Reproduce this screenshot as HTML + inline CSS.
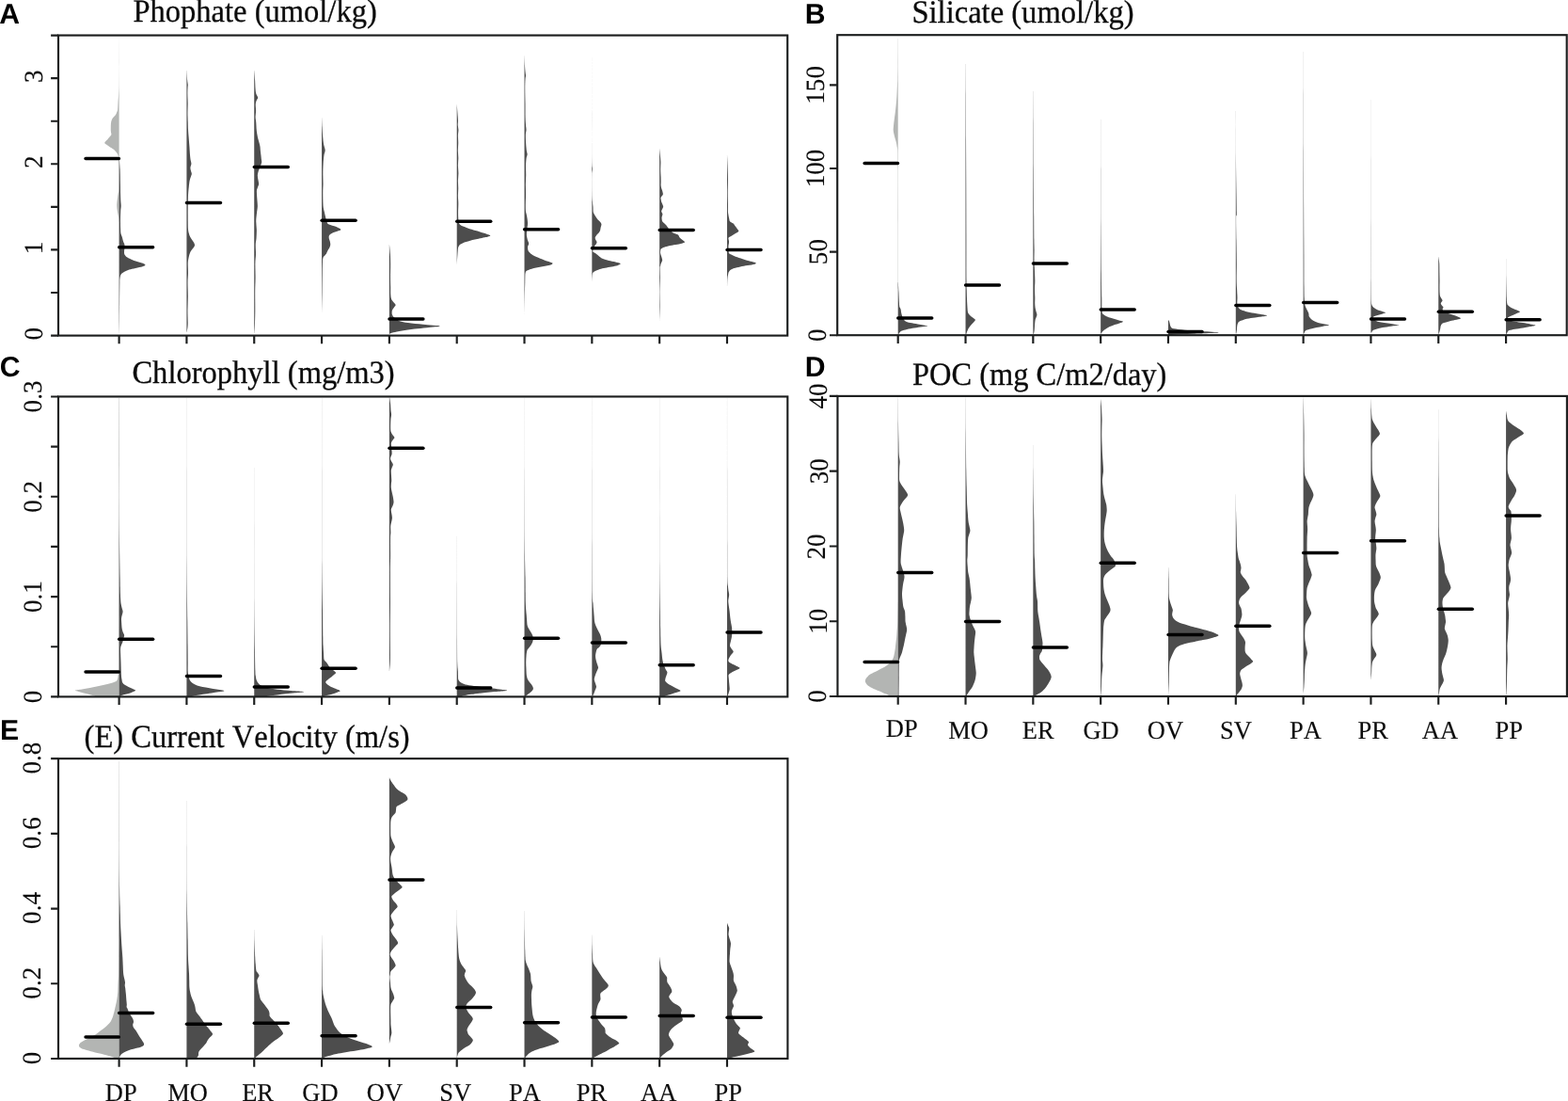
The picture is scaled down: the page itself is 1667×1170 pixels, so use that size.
<!DOCTYPE html>
<html lang="en">
<head>
<meta charset="utf-8">
<title>Bean plots of environmental variables</title>
<style>
html,body{margin:0;padding:0;background:#fff;}
body{width:1667px;height:1170px;overflow:hidden;}
svg{display:block;}
text{text-rendering:geometricPrecision;}
.t{font-family:"Liberation Serif","DejaVu Serif",serif;fill:#0c0c0c;stroke:#0c0c0c;stroke-width:0.15px;font-kerning:none;}
.l{font-family:"Liberation Sans","DejaVu Sans",sans-serif;font-weight:bold;fill:#000;}
.ax{stroke:#1c1e1e;stroke-width:2.15;fill:none;}
.tt{stroke-width:0.3px;}
.dk{fill:#4d4d4d;}
.lt{fill:#b3b5b3;}
.hl{stroke:#dcdcdc;stroke-width:0.8;fill:none;}
.m{stroke:#000;stroke-width:3.5;stroke-linecap:round;fill:none;}
</style>
</head>
<body>
<svg width="1667" height="1170" viewBox="0 0 1667 1170" role="img" aria-label="Bean plots of phosphate, silicate, chlorophyll, POC and current velocity for ten regions">
<rect x="0" y="0" width="1667" height="1170" fill="#fff"/>
<g id="panel-A">
<g><path class="lt" d="M126.6 41L126.56 41C126.55 45.83 126.56 61.83 126.54 70C126.51 78.17 126.49 85 126.42 90C126.35 95 126.26 96.7 126.1 100C125.94 103.3 125.62 107.07 125.45 109.8C125.28 112.53 125.27 114.87 125.08 116.4C124.89 117.93 124.63 118.12 124.3 119C123.97 119.88 123.55 120.93 123.1 121.7C122.65 122.47 122.15 122.95 121.6 123.6C121.05 124.25 120.27 124.95 119.8 125.6C119.33 126.25 119.07 126.83 118.8 127.5C118.53 128.17 118.35 128.85 118.2 129.6C118.05 130.35 117.97 131.12 117.9 132C117.83 132.88 117.82 133.77 117.8 134.9C117.78 136.03 117.75 137.78 117.8 138.8C117.85 139.82 118 140.33 118.1 141C118.2 141.67 118.45 142.3 118.4 142.8C118.35 143.3 118.12 143.57 117.8 144C117.48 144.43 116.9 144.93 116.5 145.4C116.1 145.87 115.73 146.35 115.4 146.8C115.07 147.25 114.98 147.57 114.5 148.1C114.02 148.63 112.98 149.52 112.5 150C112.02 150.48 111.82 150.7 111.6 151C111.38 151.3 111.2 151.53 111.2 151.8C111.2 152.07 111.38 152.35 111.6 152.6C111.82 152.85 112.03 152.97 112.5 153.3C112.97 153.63 113.73 154.15 114.4 154.6C115.07 155.05 115.8 155.55 116.5 156C117.2 156.45 117.93 156.87 118.6 157.3C119.27 157.73 119.88 158.12 120.5 158.6C121.12 159.08 121.75 159.65 122.3 160.2C122.85 160.75 123.37 161.35 123.8 161.9C124.23 162.45 124.61 162.95 124.9 163.5C125.19 164.05 125.3 164.53 125.53 165.2C125.77 165.87 126.15 165.87 126.3 167.5C126.45 169.13 126.4 169.58 126.42 175C126.44 180.42 126.55 194.83 126.42 200C126.29 205.17 125.87 204.17 125.62 206C125.37 207.83 125.1 209.5 124.9 211C124.7 212.5 124.52 213.7 124.4 215C124.28 216.3 124.17 217.47 124.2 218.8C124.23 220.13 124.41 221.63 124.6 223C124.78 224.37 125.06 225.67 125.31 227C125.56 228.33 125.9 229.5 126.1 231C126.3 232.5 126.42 235.17 126.49 236L126.6 236Z"/><path class="dk" d="M126.6 168L126.78 168C126.91 170 127.39 175.5 127.58 180C127.77 184.5 127.81 190.83 127.89 195C127.97 199.17 127.97 202 128.04 205C128.11 208 128.19 210.7 128.3 213C128.41 215.3 128.72 216.8 128.7 218.8C128.68 220.8 128.32 222.3 128.2 225C128.08 227.7 127.97 232 127.96 235C127.95 238 128.05 240.87 128.12 243C128.19 245.13 128.24 246.63 128.4 247.8C128.56 248.97 128.87 249.33 129.1 250C129.33 250.67 129.6 251.17 129.8 251.8C130 252.43 130.13 253.15 130.3 253.8C130.47 254.45 130.6 255.05 130.8 255.7C131 256.35 131.23 257.03 131.5 257.7C131.77 258.37 132.23 258.85 132.4 259.7C132.57 260.55 132.55 261.7 132.5 262.8C132.45 263.9 132.18 265.43 132.1 266.3C132.02 267.17 132 267.45 132 268C132 268.55 131.98 269.1 132.1 269.6C132.22 270.1 132.43 270.57 132.7 271C132.97 271.43 133.25 271.78 133.7 272.2C134.15 272.62 134.73 273.07 135.4 273.5C136.07 273.93 136.8 274.35 137.7 274.8C138.6 275.25 139.7 275.75 140.8 276.2C141.9 276.65 143.18 277.12 144.3 277.5C145.42 277.88 146.4 278.17 147.5 278.5C148.6 278.83 150.02 279.22 150.9 279.5C151.78 279.78 152.32 279.98 152.8 280.2C153.28 280.42 153.55 280.62 153.8 280.8C154.05 280.98 154.2 281.15 154.3 281.3C154.4 281.45 154.45 281.55 154.4 281.7C154.35 281.85 154.25 282.02 154 282.2C153.75 282.38 153.4 282.6 152.9 282.8C152.4 283 151.78 283.18 151 283.4C150.22 283.62 149.35 283.83 148.2 284.1C147.05 284.37 145.42 284.72 144.1 285C142.78 285.28 141.42 285.53 140.3 285.8C139.18 286.07 138.28 286.33 137.4 286.6C136.52 286.87 135.77 287.1 135 287.4C134.23 287.7 133.45 288.07 132.8 288.4C132.15 288.73 131.63 289.03 131.1 289.4C130.57 289.77 130.05 290.17 129.6 290.6C129.15 291.03 128.69 291.52 128.4 292C128.12 292.48 128.03 292.95 127.89 293.5C127.75 294.05 127.67 294.22 127.58 295.3C127.48 296.38 127.4 295.88 127.32 300C127.24 304.12 127.17 313.33 127.1 320C127.03 326.67 126.96 334.33 126.9 340C126.84 345.67 126.74 351.67 126.71 354L126.6 354Z"/><path class="m" d="M91.05 168.5H126.35"/><path class="m" d="M126.7 262.8H162.6"/></g>
<g><path class="dk" d="M198.42 75L198.53 75C198.63 76.67 198.93 82.5 199.14 85C199.35 87.5 199.71 88.67 199.78 90C199.85 91.33 199.63 91.33 199.57 93C199.51 94.67 199.38 97.17 199.4 100C199.42 102.83 199.7 106.67 199.71 110C199.72 113.33 199.47 116.67 199.48 120C199.5 123.33 199.69 127 199.78 130C199.87 133 199.88 135.33 200.02 138C200.16 140.67 200.39 143 200.62 146C200.85 149 201.19 152.83 201.42 156C201.65 159.17 201.82 162.67 202.02 165C202.22 167.33 202.39 168.5 202.62 170C202.85 171.5 203.45 172.67 203.42 174C203.39 175.33 202.52 176.83 202.42 178C202.32 179.17 202.59 179.87 202.82 181C203.05 182.13 203.82 183.63 203.82 184.8C203.82 185.97 203.19 186.8 202.82 188C202.45 189.2 201.95 190.33 201.62 192C201.29 193.67 201.05 196 200.82 198C200.59 200 200.37 202 200.22 204C200.07 206 200.01 207.33 199.94 210C199.87 212.67 199.81 215.83 199.78 220C199.75 224.17 199.74 231 199.78 235C199.82 239 199.85 241.83 200.02 244C200.19 246.17 200.49 246.75 200.82 248C201.15 249.25 201.45 250.33 202.02 251.5C202.59 252.67 203.52 253.92 204.22 255C204.92 256.08 205.75 257.13 206.22 258C206.69 258.87 207.02 259.45 207.02 260.2C207.02 260.95 206.69 261.7 206.22 262.5C205.75 263.3 204.84 264.17 204.22 265C203.6 265.83 203.02 266.5 202.52 267.5C202.02 268.5 201.59 269.75 201.22 271C200.85 272.25 200.56 273.5 200.32 275C200.08 276.5 199.83 277.5 199.78 280C199.73 282.5 200.05 286.67 200.02 290C199.98 293.33 199.6 295.83 199.57 300C199.54 304.17 199.87 310 199.86 315C199.85 320 199.51 325 199.48 330C199.46 335 199.86 341.17 199.71 345C199.56 348.83 198.78 351.67 198.6 353L198.42 353Z"/><path class="m" d="M198.52 215.4H234.42"/></g>
<g><path class="dk" d="M270.24 75L270.35 75C270.48 76.67 270.88 81.67 271.09 85C271.3 88.33 271.38 92.5 271.6 95C271.83 97.5 272 98.53 272.44 100C272.88 101.47 274.21 102.63 274.24 103.8C274.27 104.97 273.05 105.8 272.64 107C272.23 108.2 271.84 109.17 271.76 111C271.68 112.83 272.17 115.83 272.14 118C272.11 120.17 271.58 122 271.6 124C271.62 126 272.05 127.67 272.24 130C272.43 132.33 272.54 135.83 272.74 138C272.94 140.17 273.19 141.5 273.44 143C273.69 144.5 273.87 145.5 274.24 147C274.61 148.5 275.26 150.5 275.64 152C276.02 153.5 276.34 154.67 276.54 156C276.74 157.33 276.69 158.5 276.84 160C276.99 161.5 277.27 163.5 277.44 165C277.61 166.5 277.71 167.8 277.84 169C277.97 170.2 278.31 171.2 278.24 172.2C278.17 173.2 277.87 173.8 277.44 175C277.01 176.2 276.14 178.07 275.64 179.4C275.14 180.73 274.74 181.8 274.44 183C274.14 184.2 273.84 185.27 273.84 186.6C273.84 187.93 274.22 189.5 274.44 191C274.66 192.5 275.21 194.27 275.14 195.6C275.07 196.93 274.41 197.8 274.04 199C273.67 200.2 273.07 200.97 272.94 202.8C272.81 204.63 273.09 207.3 273.24 210C273.39 212.7 273.87 216.33 273.84 219C273.81 221.67 273.31 223.33 273.04 226C272.77 228.67 272.27 232 272.24 235C272.21 238 272.79 241 272.84 244C272.89 247 272.72 250.33 272.54 253C272.36 255.67 271.84 257.17 271.76 260C271.68 262.83 272.1 266.67 272.04 270C271.98 273.33 271.46 275.83 271.39 280C271.32 284.17 271.63 290 271.6 295C271.57 300 271.27 304.17 271.22 310C271.17 315.83 271.35 324.17 271.31 330C271.26 335.83 271.11 341 270.96 345C270.81 349 270.51 352.5 270.42 354L270.24 354Z"/><path class="m" d="M270.34 177.6H306.24"/></g>
<g><path class="dk" d="M342.06 125L342.11 125C342.19 126.67 342.38 131.67 342.56 135C342.74 138.33 342.96 142 343.21 145C343.46 148 343.65 150.57 344.06 153C344.47 155.43 345.59 157.6 345.66 159.6C345.73 161.6 344.79 162.6 344.46 165C344.13 167.4 343.84 170.67 343.66 174C343.47 177.33 343.36 181.5 343.35 185C343.34 188.5 343.59 191.67 343.58 195C343.57 198.33 343.29 201.33 343.28 205C343.27 208.67 343.37 214.17 343.5 217C343.63 219.83 343.83 220.63 344.06 222C344.29 223.37 344.63 224.2 344.86 225.2C345.09 226.2 345.28 227.17 345.46 228C345.64 228.83 345.76 229.37 345.96 230.2C346.16 231.03 346.38 232.03 346.66 233C346.94 233.97 347.34 235.2 347.66 236C347.98 236.8 347.96 237.3 348.56 237.8C349.16 238.3 350.14 238.58 351.26 239C352.38 239.42 354.06 239.88 355.26 240.3C356.46 240.72 357.48 241.08 358.46 241.5C359.44 241.92 360.56 242.45 361.16 242.8C361.76 243.15 361.88 243.37 362.06 243.6C362.24 243.83 362.46 243.97 362.26 244.2C362.06 244.43 361.48 244.75 360.86 245C360.24 245.25 359.46 245.4 358.56 245.7C357.66 246 356.43 246.43 355.46 246.8C354.49 247.17 353.49 247.53 352.76 247.9C352.03 248.27 351.54 248.58 351.06 249C350.58 249.42 350.09 249.9 349.86 250.4C349.63 250.9 349.66 251.45 349.66 252C349.66 252.55 349.71 253.07 349.86 253.7C350.01 254.33 350.36 255.1 350.56 255.8C350.76 256.5 350.94 257.27 351.06 257.9C351.18 258.53 351.26 259.03 351.26 259.6C351.26 260.17 351.24 260.67 351.06 261.3C350.88 261.93 350.53 262.7 350.16 263.4C349.79 264.1 349.24 264.8 348.86 265.5C348.48 266.2 348.19 266.9 347.86 267.6C347.53 268.3 347.28 269.07 346.86 269.7C346.44 270.33 345.86 270.83 345.36 271.4C344.86 271.97 344.21 272.5 343.86 273.1C343.51 273.7 343.42 274.3 343.28 275C343.14 275.7 343.12 275 343.04 277.3C342.96 279.8 342.86 284.55 342.78 290C342.7 295.45 342.65 304.17 342.56 310C342.47 315.83 342.31 321.33 342.24 325C342.17 328.67 342.13 330.83 342.11 332L342.06 332Z"/><path class="m" d="M342.16 234.3H378.06"/></g>
<g><path class="dk" d="M413.88 260L413.99 260C414.14 261.67 414.66 266.67 414.86 270C415.06 273.33 415.14 275.83 415.17 280C415.2 284.17 415.02 290.83 415.03 295C415.04 299.17 415.19 302 415.24 305C415.29 308 415.18 310.87 415.32 313C415.46 315.13 415.59 316.47 416.08 317.8C416.57 319.13 417.53 319.97 418.28 321C419.03 322.03 420.45 323.08 420.58 324C420.71 324.92 419.66 325.58 419.08 326.5C418.5 327.42 417.48 328.58 417.08 329.5C416.68 330.42 416.71 331.25 416.68 332C416.65 332.75 416.55 333.17 416.88 334C417.21 334.83 417.35 335.8 418.68 337C420.01 338.2 422.35 340.2 424.88 341.2C427.41 342.2 429.71 342.4 433.88 343C438.05 343.6 444.25 344.2 449.88 344.8C455.51 345.4 467.01 346.03 467.68 346.6C468.35 347.17 458.35 347.7 453.88 348.2C449.41 348.7 444.8 349.13 440.88 349.6C436.96 350.07 433.55 350.52 430.38 351C427.21 351.48 424.38 351.98 421.88 352.5C419.38 353.02 416.7 353.6 415.4 354.1C414.1 354.6 414.28 355.27 414.06 355.5L413.88 355.5Z"/><path class="m" d="M413.98 339H449.88"/></g>
<g><path class="dk" d="M485.7 111L485.75 111C485.86 112.5 486.21 117.17 486.42 120C486.63 122.83 486.93 125.83 486.99 128C487.05 130.17 486.7 131.33 486.76 133C486.83 134.67 487.37 136.17 487.4 138C487.43 139.83 486.95 141.67 486.92 144C486.89 146.33 487.23 149.33 487.22 152C487.21 154.67 486.84 157.33 486.85 160C486.86 162.67 487.29 165.33 487.3 168C487.31 170.67 486.9 173.33 486.92 176C486.94 178.67 487.4 181.33 487.4 184C487.4 186.67 486.95 189.33 486.92 192C486.89 194.67 487.22 197.33 487.22 200C487.22 202.67 486.91 205.33 486.92 208C486.93 210.67 487.28 213 487.3 216C487.32 219 487.07 223.33 487.06 226C487.05 228.67 487.11 230.33 487.22 232C487.33 233.67 487.44 234.9 487.7 236C487.96 237.1 488.27 237.95 488.8 238.6C489.33 239.25 490.07 239.48 490.9 239.9C491.73 240.32 492.73 240.68 493.8 241.1C494.87 241.52 496.03 241.97 497.3 242.4C498.57 242.83 500.03 243.27 501.4 243.7C502.77 244.13 504.1 244.58 505.5 245C506.9 245.42 508.43 245.78 509.8 246.2C511.17 246.62 512.43 247.08 513.7 247.5C514.97 247.92 516.37 248.35 517.4 248.7C518.43 249.05 519.27 249.32 519.9 249.6C520.53 249.88 521.27 250.13 521.2 250.4C521.13 250.67 520.28 250.92 519.5 251.2C518.72 251.48 517.97 251.75 516.5 252.1C515.03 252.45 512.65 252.88 510.7 253.3C508.75 253.72 506.6 254.18 504.8 254.6C503 255.02 501.45 255.38 499.9 255.8C498.35 256.22 496.78 256.68 495.5 257.1C494.22 257.52 493.18 257.88 492.2 258.3C491.22 258.72 490.3 259.12 489.6 259.6C488.9 260.08 488.41 260.63 488 261.2C487.59 261.77 487.35 262.2 487.14 263C486.93 263.8 486.88 264.75 486.76 266C486.64 267.25 486.55 268.83 486.42 270.5C486.29 272.17 486.11 274.25 486 276C485.89 277.75 485.79 280.17 485.75 281L485.7 281Z"/><path class="m" d="M485.8 235.2H521.7"/></g>
<g><path class="dk" d="M557.52 59L557.57 59C557.65 60.83 557.85 67 558.02 70C558.19 73 558.42 75.27 558.59 77C558.75 78.73 559.05 79.23 559.04 80.4C559.03 81.57 558.63 81.57 558.5 84C558.37 86.43 558.24 90.67 558.24 95C558.24 99.33 558.44 105 558.5 110C558.56 115 558.5 121.17 558.59 125C558.68 128.83 558.88 130.83 559.04 133C559.2 135.17 559.55 136.33 559.52 138C559.49 139.67 558.95 140.67 558.88 143C558.81 145.33 558.96 149.17 559.12 152C559.28 154.83 559.57 158 559.82 160C560.07 162 560.65 162.67 560.62 164C560.59 165.33 559.88 166 559.62 168C559.36 170 559.11 173 559.04 176C558.97 179 559.25 182.67 559.22 186C559.19 189.33 558.9 192.67 558.88 196C558.86 199.33 559.13 202.67 559.12 206C559.11 209.33 558.85 213.08 558.81 216C558.77 218.92 558.76 221.67 558.88 223.5C559 225.33 559.3 225.88 559.52 227C559.74 228.12 560.02 229.12 560.22 230.2C560.42 231.28 560.59 232.38 560.72 233.5C560.85 234.62 561 235.82 561.02 236.9C561.04 237.98 560.94 238.85 560.82 240C560.7 241.15 560.47 242.63 560.32 243.8C560.17 244.97 559.99 245.9 559.92 247C559.85 248.1 559.84 249.4 559.92 250.4C560 251.4 560.24 252.17 560.42 253C560.6 253.83 560.8 254.73 561.02 255.4C561.24 256.07 561.52 256.43 561.72 257C561.92 257.57 562.22 258.22 562.22 258.8C562.22 259.38 561.92 259.95 561.72 260.5C561.52 261.05 561.12 261.48 561.02 262.1C560.92 262.72 561.04 263.5 561.12 264.2C561.2 264.9 561.25 265.67 561.52 266.3C561.79 266.93 562.24 267.43 562.72 268C563.2 268.57 563.7 269.13 564.42 269.7C565.14 270.27 566.04 270.83 567.02 271.4C568 271.97 569.1 272.53 570.32 273.1C571.54 273.67 572.92 274.25 574.32 274.8C575.72 275.35 577.35 275.92 578.72 276.4C580.09 276.88 581.27 277.28 582.52 277.7C583.77 278.12 585.42 278.58 586.22 278.9C587.02 279.22 587.09 279.4 587.32 279.6C587.55 279.8 587.69 279.9 587.62 280.1C587.55 280.3 587.29 280.57 586.92 280.8C586.55 281.03 586.45 281.22 585.42 281.5C584.39 281.78 582.4 282.17 580.72 282.5C579.04 282.83 577.1 283.15 575.32 283.5C573.54 283.85 571.7 284.23 570.02 284.6C568.34 284.97 566.6 285.32 565.22 285.7C563.84 286.08 562.7 286.48 561.72 286.9C560.74 287.32 559.83 287.68 559.32 288.2C558.81 288.72 558.83 289.3 558.67 290C558.51 290.7 558.44 290.73 558.37 292.4C558.3 294.07 558.33 296.23 558.24 300C558.15 303.77 557.93 309.33 557.82 315C557.71 320.67 557.61 330.83 557.57 334L557.52 334Z"/><path class="m" d="M557.62 243.8H593.52"/></g>
<g><path class="dk" d="M629.34 61L629.37 61C629.38 70.83 629.39 101.83 629.4 120C629.42 138.17 629.34 160.1 629.45 170C629.56 179.4 630.05 176.73 630.06 179.4C630.07 182.07 629.58 181.73 629.49 186C629.4 190.27 629.46 200.47 629.52 205C629.58 209.53 629.68 210.73 629.84 213.2C630 215.67 630.35 217.82 630.49 219.8C630.63 221.78 630.54 223.9 630.7 225.1C630.86 226.3 631.13 226.35 631.44 227C631.75 227.65 632.14 228.33 632.54 229C632.94 229.67 633.39 230.33 633.84 231C634.29 231.67 634.79 232.45 635.24 233C635.69 233.55 636.11 233.87 636.54 234.3C636.97 234.73 637.44 235.15 637.84 235.6C638.24 236.05 638.67 236.55 638.94 237C639.21 237.45 639.41 237.8 639.44 238.3C639.47 238.8 639.29 239.35 639.14 240C638.99 240.65 638.69 241.53 638.54 242.2C638.39 242.87 638.36 243.45 638.24 244C638.12 244.55 638.09 244.97 637.84 245.5C637.59 246.03 637.17 246.65 636.74 247.2C636.31 247.75 635.72 248.25 635.24 248.8C634.76 249.35 634.24 249.95 633.84 250.5C633.44 251.05 633.01 251.6 632.84 252.1C632.67 252.6 632.77 253.05 632.84 253.5C632.91 253.95 633.04 254.37 633.24 254.8C633.44 255.23 633.82 255.67 634.04 256.1C634.26 256.53 634.54 256.97 634.54 257.4C634.54 257.83 634.26 258.27 634.04 258.7C633.82 259.13 633.49 259.62 633.24 260C632.99 260.38 632.76 260.67 632.54 261C632.32 261.33 632.21 261.5 631.94 262C631.67 262.5 631.2 263.37 630.94 264C630.68 264.63 630.51 265.25 630.4 265.8C630.3 266.35 630.16 266.88 630.32 267.3C630.48 267.72 630.85 267.97 631.34 268.3C631.83 268.63 632.66 268.92 633.24 269.3C633.82 269.68 634.29 270.17 634.84 270.6C635.39 271.03 635.99 271.45 636.54 271.9C637.09 272.35 637.59 272.85 638.14 273.3C638.69 273.75 639.14 274.22 639.84 274.6C640.54 274.98 641.36 275.28 642.34 275.6C643.32 275.92 644.64 276.22 645.74 276.5C646.84 276.78 647.84 277.03 648.94 277.3C650.04 277.57 651.31 277.87 652.34 278.1C653.37 278.33 654.26 278.52 655.14 278.7C656.02 278.88 656.99 279.03 657.64 279.2C658.29 279.37 658.71 279.55 659.04 279.7C659.37 279.85 659.59 279.93 659.64 280.1C659.69 280.27 659.56 280.52 659.34 280.7C659.12 280.88 658.74 281 658.34 281.2C657.94 281.4 657.49 281.68 656.94 281.9C656.39 282.12 655.87 282.28 655.04 282.5C654.21 282.72 653.04 282.98 651.94 283.2C650.84 283.42 649.61 283.58 648.44 283.8C647.27 284.02 646.04 284.28 644.94 284.5C643.84 284.72 642.84 284.88 641.84 285.1C640.84 285.32 639.82 285.58 638.94 285.8C638.06 286.02 637.37 286.13 636.54 286.4C635.71 286.67 634.71 287.07 633.94 287.4C633.17 287.73 632.48 288.07 631.94 288.4C631.4 288.73 631.01 289.07 630.7 289.4C630.39 289.73 630.24 289.63 630.06 290.4C629.88 291.17 629.75 292.57 629.64 294C629.53 295.43 629.43 298.17 629.39 299L629.34 299Z"/><path class="m" d="M629.44 263.7H665.34"/></g>
<g><path class="dk" d="M701.16 158L701.21 158C701.32 159.17 701.67 162.67 701.88 165C702.09 167.33 702.39 169.5 702.45 172C702.51 174.5 702.2 177.33 702.23 180C702.25 182.67 702.52 185.73 702.6 188C702.68 190.27 702.68 192.1 702.68 193.6C702.68 195.1 702.52 195.93 702.6 197C702.68 198.07 702.92 199.07 703.16 200C703.4 200.93 703.83 201.83 704.06 202.6C704.29 203.37 704.43 203.93 704.56 204.6C704.69 205.27 704.99 205.98 704.86 206.6C704.73 207.22 704.15 207.75 703.76 208.3C703.37 208.85 702.7 209.28 702.52 209.9C702.34 210.52 702.57 211.23 702.68 212C702.79 212.77 702.88 213.63 703.16 214.5C703.44 215.37 704.03 216.32 704.36 217.2C704.69 218.08 705.19 219 705.16 219.8C705.13 220.6 704.49 221.23 704.16 222C703.83 222.77 703.23 223.73 703.16 224.4C703.09 225.07 703.54 225.45 703.76 226C703.98 226.55 704.43 227.13 704.46 227.7C704.49 228.27 704.11 228.85 703.96 229.4C703.81 229.95 703.61 230.4 703.56 231C703.51 231.6 703.58 232.33 703.66 233C703.74 233.67 703.83 234.45 704.06 235C704.29 235.55 704.66 235.87 705.06 236.3C705.46 236.73 706.06 237.22 706.46 237.6C706.86 237.98 707.13 238.27 707.46 238.6C707.79 238.93 708.13 239.2 708.46 239.6C708.79 240 709.14 240.57 709.46 241C709.78 241.43 710.04 241.78 710.36 242.2C710.68 242.62 711.03 243.1 711.36 243.5C711.69 243.9 711.94 244.18 712.36 244.6C712.78 245.02 713.31 245.52 713.86 246C714.41 246.48 714.91 247.08 715.66 247.5C716.41 247.92 717.48 248.17 718.36 248.5C719.24 248.83 720.39 249.12 720.96 249.5C721.53 249.88 721.54 250.37 721.76 250.8C721.98 251.23 722.03 251.72 722.26 252.1C722.49 252.48 722.83 252.77 723.16 253.1C723.49 253.43 723.86 253.77 724.26 254.1C724.66 254.43 725.13 254.77 725.56 255.1C725.99 255.43 726.51 255.82 726.86 256.1C727.21 256.38 727.48 256.58 727.66 256.8C727.84 257.02 728.08 257.2 727.96 257.4C727.84 257.6 727.46 257.78 726.96 258C726.46 258.22 725.83 258.47 724.96 258.7C724.09 258.93 722.86 259.18 721.76 259.4C720.66 259.62 719.59 259.78 718.36 260C717.13 260.22 715.69 260.47 714.36 260.7C713.03 260.93 711.53 261.15 710.36 261.4C709.19 261.65 708.23 261.92 707.36 262.2C706.49 262.48 705.79 262.82 705.16 263.1C704.53 263.38 704 263.63 703.56 263.9C703.12 264.17 702.76 264.27 702.52 264.7C702.28 265.13 702.23 265.85 702.14 266.5C702.05 267.15 701.96 267.92 702.01 268.6C702.06 269.28 702.26 269.93 702.45 270.6C702.64 271.27 702.94 271.95 703.16 272.6C703.38 273.25 703.59 273.85 703.76 274.5C703.93 275.15 704.21 275.83 704.16 276.5C704.11 277.17 703.73 277.83 703.46 278.5C703.19 279.17 702.74 279.83 702.52 280.5C702.3 281.17 702.28 281.83 702.14 282.5C702 283.17 701.7 282.5 701.66 284.5C701.62 286.58 701.91 290.75 701.88 295C701.85 299.25 701.5 305 701.46 310C701.42 315 701.7 319.83 701.66 325C701.62 330.17 701.29 338.33 701.21 341L701.16 341Z"/><path class="m" d="M701.26 244.6H737.16"/></g>
<g><path class="dk" d="M772.98 165L773.03 165C773.11 166.67 773.33 170.83 773.48 175C773.63 179.17 773.92 185 773.96 190C774 195 773.7 200.5 773.7 205C773.7 209.5 773.92 213.65 773.96 217C774 220.35 773.9 223.27 773.96 225.1C774.02 226.93 774.2 227.12 774.34 228C774.48 228.88 774.62 229.62 774.78 230.4C774.94 231.18 775.11 231.93 775.28 232.7C775.45 233.47 775.43 234.4 775.78 235C776.13 235.6 776.73 235.87 777.38 236.3C778.03 236.73 779.11 237.15 779.68 237.6C780.25 238.05 780.45 238.55 780.78 239C781.11 239.45 781.36 239.87 781.68 240.3C782 240.73 782.35 241.17 782.68 241.6C783.01 242.03 783.35 242.47 783.68 242.9C784.01 243.33 784.4 243.77 784.68 244.2C784.96 244.63 785.4 245.12 785.38 245.5C785.36 245.88 784.98 246.17 784.58 246.5C784.18 246.83 783.61 247.12 782.98 247.5C782.35 247.88 781.55 248.35 780.78 248.8C780.01 249.25 779.15 249.75 778.38 250.2C777.61 250.65 776.83 251.07 776.18 251.5C775.53 251.93 774.75 252.25 774.5 252.8C774.25 253.35 774.58 254.13 774.68 254.8C774.78 255.47 775.05 256.15 775.08 256.8C775.11 257.45 774.98 258.05 774.88 258.7C774.78 259.35 774.58 259.98 774.5 260.7C774.42 261.42 774.41 262.18 774.42 263C774.43 263.82 774.54 264.85 774.58 265.6C774.62 266.35 774.6 266.88 774.68 267.5C774.76 268.12 774.63 268.78 775.08 269.3C775.53 269.82 776.5 270.17 777.38 270.6C778.26 271.03 779.31 271.45 780.38 271.9C781.45 272.35 782.58 272.85 783.78 273.3C784.98 273.75 786.25 274.17 787.58 274.6C788.91 275.03 790.35 275.47 791.78 275.9C793.21 276.33 794.91 276.85 796.18 277.2C797.45 277.55 798.38 277.73 799.38 278C800.38 278.27 801.51 278.58 802.18 278.8C802.85 279.02 803.11 279.17 803.38 279.3C803.65 279.43 803.78 279.45 803.78 279.6C803.78 279.75 803.65 280 803.38 280.2C803.11 280.4 802.91 280.58 802.18 280.8C801.45 281.02 800.2 281.28 798.98 281.5C797.76 281.72 796.25 281.88 794.88 282.1C793.51 282.32 792.1 282.58 790.78 282.8C789.46 283.02 788.21 283.17 786.98 283.4C785.75 283.63 784.48 283.92 783.38 284.2C782.28 284.48 781.26 284.78 780.38 285.1C779.5 285.42 778.75 285.77 778.08 286.1C777.41 286.43 776.86 286.72 776.38 287.1C775.9 287.48 775.49 287.97 775.18 288.4C774.87 288.83 774.69 289.1 774.5 289.7C774.31 290.3 774.21 291.12 774.04 292C773.88 292.88 773.63 293.67 773.48 295C773.33 296.33 773.23 298.23 773.16 300C773.09 301.77 773.05 304.67 773.03 305.6L772.98 305.6Z"/><path class="m" d="M773.08 265.6H808.98"/></g>
<rect class="ax" x="62" y="37.55" width="775.2" height="319.05"/>
<path class="ax" d="M54.1 356.6H62M54.1 311.02H62M54.1 265.44H62M54.1 219.86H62M54.1 174.29H62M54.1 128.71H62M54.1 83.13H62M54.1 37.55H62M126.6 356.6V365.3M198.42 356.6V365.3M270.24 356.6V365.3M342.06 356.6V365.3M413.88 356.6V365.3M485.7 356.6V365.3M557.52 356.6V365.3M629.34 356.6V365.3M701.16 356.6V365.3M772.98 356.6V365.3"/>
<text class="t" font-size="28" text-anchor="middle" transform="translate(45 354.6) rotate(-90) scale(0.97 1)">0</text>
<text class="t" font-size="28" text-anchor="middle" transform="translate(45 263.44) rotate(-90) scale(0.97 1)">1</text>
<text class="t" font-size="28" text-anchor="middle" transform="translate(45 172.29) rotate(-90) scale(0.97 1)">2</text>
<text class="t" font-size="28" text-anchor="middle" transform="translate(45 81.13) rotate(-90) scale(0.97 1)">3</text>
<text class="t tt" font-size="34.3" transform="translate(141.478 22.8) scale(0.9483 1)">Phophate (umol/kg)</text>
<text class="l" font-size="30.2" transform="translate(-0.7 25.3) scale(1.0 1.0)">A</text>
</g>
<g id="panel-B">
<g><path class="lt" d="M954.7 41L954.52 41C954.5 45.83 954.45 62.83 954.4 70C954.35 77.17 954.31 79.83 954.2 84C954.09 88.17 953.85 92 953.72 95C953.59 98 953.58 99.33 953.41 102C953.24 104.67 952.99 108 952.7 111C952.42 114 952 117.5 951.7 120C951.4 122.5 951.13 124.2 950.9 126C950.67 127.8 950.47 129.3 950.3 130.8C950.13 132.3 950 133.8 949.9 135C949.8 136.2 949.65 136.92 949.7 138C949.75 139.08 949.97 140.3 950.2 141.5C950.43 142.7 950.77 143.95 951.1 145.2C951.43 146.45 951.87 147.8 952.2 149C952.53 150.2 952.86 151.23 953.1 152.4C953.34 153.57 953.45 154.8 953.63 156C953.82 157.2 954.07 156 954.2 159.6C954.33 163.6 954.37 164.93 954.4 180C954.43 195.07 954.38 228.83 954.4 250C954.42 271.17 954.5 297.5 954.52 307L954.7 307Z"/><path class="dk" d="M954.7 300L954.88 300C954.97 301.71 955.29 307.52 955.42 310.25C955.55 312.98 955.6 314.52 955.68 316.4C955.76 318.27 955.83 319.98 955.92 321.5C956.01 323.02 956.02 324.5 956.22 325.5C956.42 326.5 956.85 326.9 957.1 327.5C957.35 328.1 957.55 328.43 957.7 329.1C957.85 329.77 957.83 330.6 958 331.5C958.17 332.4 958.42 333.5 958.7 334.5C958.98 335.5 959.28 336.58 959.7 337.5C960.12 338.42 960.62 339.3 961.2 340C961.78 340.7 962.12 341.18 963.2 341.7C964.28 342.22 965.62 342.65 967.7 343.1C969.78 343.55 973.37 344.02 975.7 344.4C978.03 344.78 979.95 345.1 981.7 345.4C983.45 345.7 986.37 345.88 986.2 346.2C986.03 346.52 983.03 346.92 980.7 347.3C978.37 347.68 974.95 348.05 972.2 348.5C969.45 348.95 966.45 349.5 964.2 350C961.95 350.5 959.95 351 958.7 351.5C957.45 352 957.18 352.53 956.7 353C956.23 353.47 956.15 353.88 955.85 354.3C955.55 354.72 955.04 355.3 954.88 355.5L954.7 355.5Z"/><path class="m" d="M919.15 173.4H954.45"/><path class="m" d="M954.8 338.1H990.7"/></g>
<g><path class="dk" d="M1026.52 68L1026.63 68C1026.66 73.33 1026.76 86.33 1026.82 100C1026.88 113.67 1026.95 133.33 1027.02 150C1027.09 166.67 1027.18 183.33 1027.24 200C1027.3 216.67 1027.33 233.67 1027.37 250C1027.41 266.33 1027.44 288.3 1027.5 298C1027.56 307.7 1027.66 305.13 1027.74 308.2C1027.82 311.27 1027.86 313.68 1027.96 316.4C1028.06 319.12 1028.18 322.08 1028.32 324.5C1028.46 326.92 1028.62 329.48 1028.82 330.9C1029.02 332.32 1029.22 332.4 1029.52 333C1029.82 333.6 1030.09 333.92 1030.62 334.5C1031.15 335.08 1031.9 335.83 1032.72 336.5C1033.54 337.17 1034.82 337.93 1035.52 338.5C1036.22 339.07 1036.85 339.4 1036.92 339.9C1036.99 340.4 1036.39 340.9 1035.92 341.5C1035.45 342.1 1034.69 342.87 1034.12 343.5C1033.55 344.13 1033.15 344.55 1032.52 345.3C1031.89 346.05 1030.94 347.1 1030.32 348C1029.7 348.9 1029.23 349.87 1028.82 350.7C1028.41 351.53 1028.1 352.35 1027.88 353C1027.66 353.65 1027.7 354.15 1027.5 354.6C1027.3 355.05 1026.83 355.52 1026.7 355.7L1026.52 355.7Z"/><path class="m" d="M1026.62 303H1062.52"/></g>
<g><path class="dk" d="M1098.34 97L1098.45 97C1098.48 102.5 1098.58 116.17 1098.64 130C1098.7 143.83 1098.75 163.33 1098.84 180C1098.93 196.67 1099.1 217.5 1099.19 230C1099.28 242.5 1099.33 249.07 1099.41 255C1099.48 260.93 1099.62 262.27 1099.63 265.6C1099.64 268.93 1099.45 271.77 1099.49 275C1099.53 278.23 1099.72 281.17 1099.86 285C1100 288.83 1100.31 294.3 1100.34 298C1100.37 301.7 1100.04 304.11 1100.04 307.18C1100.04 310.25 1100.31 313.85 1100.34 316.4C1100.37 318.95 1100.19 320.68 1100.24 322.5C1100.29 324.32 1100.42 325.88 1100.64 327.3C1100.86 328.72 1101.24 329.8 1101.54 331C1101.84 332.2 1102.44 333.42 1102.44 334.5C1102.44 335.58 1101.84 336.6 1101.54 337.5C1101.24 338.4 1100.87 338.73 1100.64 339.9C1100.41 341.07 1100.27 343 1100.14 344.5C1100.01 346 1099.97 347.57 1099.86 348.9C1099.75 350.23 1099.66 351.48 1099.49 352.5C1099.32 353.52 1098.95 354.58 1098.84 355L1098.34 355Z"/><path class="m" d="M1098.44 280H1134.34"/></g>
<g><path class="dk" d="M1170.16 127L1170.24 127C1170.26 135.83 1170.3 161.17 1170.34 180C1170.38 198.83 1170.37 221.67 1170.46 240C1170.55 258.33 1170.74 277.27 1170.88 290C1171.02 302.73 1171.22 310.32 1171.31 316.4C1171.41 322.48 1171.34 323.78 1171.45 326.5C1171.56 329.22 1171.58 331.37 1171.96 332.7C1172.35 334.03 1173.01 333.9 1173.76 334.5C1174.51 335.1 1175.14 335.7 1176.46 336.3C1177.78 336.9 1179.71 337.5 1181.66 338.1C1183.61 338.7 1186.41 339.4 1188.16 339.9C1189.91 340.4 1191.19 340.75 1192.16 341.1C1193.13 341.45 1194.29 341.6 1193.96 342C1193.63 342.4 1191.73 342.95 1190.16 343.5C1188.59 344.05 1186.26 344.7 1184.56 345.3C1182.86 345.9 1181.31 346.5 1179.96 347.1C1178.61 347.7 1177.49 348.3 1176.46 348.9C1175.43 349.5 1174.51 350.1 1173.76 350.7C1173.01 351.3 1172.44 351.87 1171.96 352.5C1171.48 353.13 1171.06 354.17 1170.88 354.5L1170.16 354.5Z"/><path class="m" d="M1170.26 328.9H1206.16"/></g>
<g><path class="dk" d="M1241.98 339.9L1242.16 339.9C1242.31 340.17 1242.81 340.9 1243.05 341.5C1243.28 342.1 1243.39 342.75 1243.58 343.5C1243.77 344.25 1243.91 345.25 1244.18 346C1244.45 346.75 1244.55 347.45 1245.18 348C1245.81 348.55 1245.58 348.85 1247.98 349.3C1250.38 349.75 1254.58 350.25 1259.58 350.7C1264.58 351.15 1271.98 351.55 1277.98 352C1283.98 352.45 1295.91 353.02 1295.58 353.4C1295.25 353.78 1282.91 354 1275.98 354.3C1269.05 354.6 1259.31 354.92 1253.98 355.2C1248.65 355.48 1245.65 355.87 1243.98 356L1241.98 356Z"/><path class="m" d="M1242.08 352.5H1277.98"/></g>
<g><path class="dk" d="M1313.8 118L1313.88 118C1313.9 126.67 1313.83 152 1313.98 170C1314.13 188 1314.76 215.67 1314.78 226C1314.8 232 1314.14 226.33 1314.1 232C1314.06 237.67 1314.41 252 1314.52 260C1314.63 268 1314.76 273.67 1314.78 280C1314.8 286.33 1314.6 293.47 1314.65 298C1314.7 302.53 1314.98 304.8 1315.09 307.18C1315.2 309.56 1315.25 310.76 1315.32 312.3C1315.39 313.84 1315.5 315.03 1315.5 316.4C1315.5 317.77 1315.34 319.28 1315.32 320.5C1315.3 321.72 1315.22 322.7 1315.4 323.7C1315.58 324.7 1315.8 325.6 1316.4 326.5C1317 327.4 1317.68 328.37 1319 329.1C1320.32 329.83 1321.9 330.3 1324.3 330.9C1326.7 331.5 1330.65 332.17 1333.4 332.7C1336.15 333.23 1338.57 333.65 1340.8 334.1C1343.03 334.55 1347.13 334.97 1346.8 335.4C1346.47 335.83 1341.63 336.25 1338.8 336.7C1335.97 337.15 1332.63 337.57 1329.8 338.1C1326.97 338.63 1323.87 339.3 1321.8 339.9C1319.73 340.5 1318.4 341.02 1317.4 341.7C1316.4 342.38 1316.17 343.1 1315.8 344C1315.43 344.9 1315.3 346.02 1315.16 347.1C1315.02 348.18 1315.09 349.27 1314.95 350.5C1314.81 351.73 1314.41 353.83 1314.3 354.5L1313.8 354.5Z"/><path class="m" d="M1313.9 324.6H1349.8"/></g>
<g><path class="dk" d="M1385.62 55L1385.7 55C1385.72 62.5 1385.76 82.5 1385.8 100C1385.84 117.5 1385.87 140 1385.92 160C1385.97 180 1386.05 201.67 1386.12 220C1386.19 238.33 1386.28 255.81 1386.34 270C1386.4 284.19 1386.41 297.39 1386.47 305.12C1386.53 312.85 1386.56 313.34 1386.68 316.4C1386.81 319.46 1386.83 321.53 1387.22 323.5C1387.61 325.47 1388.52 327.03 1389.02 328.2C1389.52 329.37 1389.85 329.75 1390.22 330.5C1390.59 331.25 1391 332.03 1391.22 332.7C1391.44 333.37 1391.44 333.9 1391.52 334.5C1391.6 335.1 1391.4 335.63 1391.72 336.3C1392.04 336.97 1392.67 337.75 1393.42 338.5C1394.17 339.25 1395.22 340.17 1396.22 340.8C1397.22 341.43 1398.22 341.85 1399.42 342.3C1400.62 342.75 1401.89 343.12 1403.42 343.5C1404.95 343.88 1407.02 344.25 1408.62 344.6C1410.22 344.95 1413.35 345.25 1413.02 345.6C1412.69 345.95 1408.82 346.3 1406.62 346.7C1404.42 347.1 1401.99 347.55 1399.82 348C1397.65 348.45 1395.42 348.95 1393.62 349.4C1391.82 349.85 1390.05 350.25 1389.02 350.7C1387.99 351.15 1387.79 351.65 1387.42 352.1C1387.04 352.55 1387.04 352.92 1386.77 353.4C1386.5 353.88 1385.96 354.73 1385.8 355L1385.62 355Z"/><path class="m" d="M1385.72 321.4H1421.62"/></g>
<g><path class="dk" d="M1457.44 106L1457.5 106C1457.51 116.67 1457.53 147.67 1457.55 170C1457.57 192.33 1457.59 218.33 1457.62 240C1457.65 261.67 1457.69 286.58 1457.74 300C1457.79 313.42 1457.83 316.55 1457.94 320.5C1458.05 323.7 1458.2 322.87 1458.42 323.7C1458.64 324.53 1458.8 324.9 1459.24 325.5C1459.68 326.1 1460.34 326.77 1461.04 327.3C1461.74 327.83 1462.54 328.25 1463.44 328.7C1464.34 329.15 1465.31 329.58 1466.44 330C1467.57 330.42 1469.12 330.82 1470.24 331.2C1471.36 331.58 1473.17 331.93 1473.14 332.3C1473.11 332.67 1471.16 333.03 1470.04 333.4C1468.92 333.77 1467.64 334.15 1466.44 334.5C1465.24 334.85 1463.87 335.15 1462.84 335.5C1461.81 335.85 1460.77 336.18 1460.24 336.6C1459.71 337.02 1459.54 337.52 1459.64 338C1459.74 338.48 1460.41 339.08 1460.84 339.5C1461.27 339.92 1461.61 340.13 1462.24 340.5C1462.87 340.87 1463.36 341.32 1464.64 341.7C1465.92 342.08 1467.84 342.45 1469.94 342.8C1472.04 343.15 1475.07 343.48 1477.24 343.8C1479.41 344.12 1481.29 344.4 1482.94 344.7C1484.59 345 1487.81 345.27 1487.14 345.6C1486.47 345.93 1481.79 346.3 1478.94 346.7C1476.09 347.1 1472.54 347.55 1470.04 348C1467.54 348.45 1465.59 348.95 1463.94 349.4C1462.29 349.85 1460.98 350.27 1460.14 350.7C1459.3 351.13 1459.21 351.53 1458.88 352C1458.55 352.47 1458.28 353.25 1458.16 353.5L1457.44 353.5Z"/><path class="m" d="M1457.54 339H1493.44"/></g>
<g><path class="dk" d="M1529.26 273L1529.37 273C1529.52 274.17 1530.07 277.17 1530.24 280C1530.41 282.83 1530.36 287 1530.41 290C1530.46 293 1530.54 295.31 1530.55 298C1530.56 300.69 1530.47 303.94 1530.48 306.15C1530.49 308.36 1530.54 309.87 1530.62 311.27C1530.7 312.67 1530.69 313.62 1530.96 314.56C1531.23 315.5 1531.83 316.14 1532.26 316.91C1532.69 317.68 1533.53 318.49 1533.56 319.17C1533.59 319.85 1532.76 320.39 1532.46 321C1532.16 321.61 1531.69 322.22 1531.76 322.8C1531.83 323.38 1532.41 323.9 1532.86 324.5C1533.31 325.1 1534.29 325.87 1534.46 326.4C1534.63 326.93 1533.99 327.25 1533.86 327.7C1533.73 328.15 1533.51 328.63 1533.66 329.1C1533.81 329.57 1533.99 329.93 1534.76 330.5C1535.53 331.07 1536.66 331.83 1538.26 332.5C1539.86 333.17 1542.44 333.83 1544.36 334.5C1546.28 335.17 1548.34 335.85 1549.76 336.5C1551.18 337.15 1553.36 337.82 1552.86 338.4C1552.36 338.98 1548.93 339.45 1546.76 340C1544.59 340.55 1541.78 341.18 1539.86 341.7C1537.94 342.22 1536.46 342.65 1535.26 343.1C1534.06 343.55 1533.26 343.83 1532.66 344.4C1532.06 344.97 1531.89 345.75 1531.66 346.5C1531.43 347.25 1531.41 348.15 1531.26 348.9C1531.11 349.65 1530.92 350.4 1530.78 351C1530.64 351.6 1530.61 351.83 1530.41 352.5C1530.21 353.17 1529.7 354.58 1529.56 355L1529.26 355Z"/><path class="m" d="M1529.36 331.3H1565.26"/></g>
<g><path class="dk" d="M1601.08 275L1601.16 275C1601.18 278.33 1601.15 288.05 1601.26 295C1601.37 301.95 1601.64 312.24 1601.8 316.72C1601.96 321.2 1602.05 320.67 1602.23 321.9C1602.41 323.13 1602.4 323.43 1602.88 324.1C1603.35 324.77 1604.18 325.3 1605.08 325.9C1605.98 326.5 1607.03 327.1 1608.28 327.7C1609.53 328.3 1611.31 328.9 1612.58 329.5C1613.85 330.1 1615.88 330.7 1615.88 331.3C1615.88 331.9 1613.85 332.5 1612.58 333.1C1611.31 333.7 1609.6 334.35 1608.28 334.9C1606.96 335.45 1605.55 335.95 1604.68 336.4C1603.81 336.85 1603.31 337.18 1603.08 337.6C1602.85 338.02 1602.86 338.43 1603.28 338.9C1603.7 339.37 1604.36 339.93 1605.58 340.4C1606.8 340.87 1608.33 341.27 1610.58 341.7C1612.83 342.13 1616.33 342.55 1619.08 343C1621.83 343.45 1624.83 343.95 1627.08 344.4C1629.33 344.85 1632.66 345.27 1632.58 345.7C1632.5 346.13 1628.83 346.55 1626.58 347C1624.33 347.45 1621.75 347.93 1619.08 348.4C1616.41 348.87 1612.98 349.35 1610.58 349.8C1608.18 350.25 1605.96 350.65 1604.68 351.1C1603.4 351.55 1603.29 352.05 1602.88 352.5C1602.47 352.95 1602.5 353.32 1602.23 353.8C1601.96 354.28 1601.42 355.13 1601.26 355.4L1601.08 355.4Z"/><path class="m" d="M1601.18 339.7H1637.08"/></g>
<rect class="ax" x="890.2" y="37.2" width="775.5" height="319"/>
<path class="ax" d="M882 356.2H890.2M882 267.6H890.2M882 179H890.2M882 90.4H890.2M954.7 356.2V364.9M1026.52 356.2V364.9M1098.34 356.2V364.9M1170.16 356.2V364.9M1241.98 356.2V364.9M1313.8 356.2V364.9M1385.62 356.2V364.9M1457.44 356.2V364.9M1529.26 356.2V364.9M1601.08 356.2V364.9"/>
<text class="t" font-size="28" text-anchor="middle" transform="translate(878.3 356.2) rotate(-90) scale(0.97 1)">0</text>
<text class="t" font-size="28" text-anchor="middle" transform="translate(878.85 267.6) rotate(-90) scale(0.97 1)">50</text>
<text class="t" font-size="28" text-anchor="middle" transform="translate(875.7 179) rotate(-90) scale(0.97 1)">100</text>
<text class="t" font-size="28" text-anchor="middle" transform="translate(875.95 90.4) rotate(-90) scale(0.97 1)">150</text>
<text class="t tt" font-size="34.3" transform="translate(969.424 24.3) scale(0.9499 1)">Silicate (umol/kg)</text>
<text class="l" font-size="30.2" transform="translate(855.7 25.4) scale(1.0 1.0)">B</text>
</g>
<g id="panel-C">
<g><path class="lt" d="M126.6 423L126.48 423C126.48 435.83 126.46 470.5 126.46 500C126.45 529.5 126.46 566.67 126.43 600C126.41 633.33 126.36 680.87 126.3 700C126.24 714.8 126.23 711.73 126.1 714.8C125.97 717.87 125.72 717.28 125.53 718.4C125.35 719.52 125.26 720.65 125 721.5C124.74 722.35 124.65 722.92 124 723.5C123.35 724.08 122.75 724.42 121.1 725C119.45 725.58 116.77 726.33 114.1 727C111.43 727.67 108.18 728.33 105.1 729C102.02 729.67 98.6 730.42 95.6 731C92.6 731.58 89.72 732.05 87.1 732.5C84.48 732.95 80.48 733.28 79.9 733.7C79.32 734.12 82.07 734.53 83.6 735C85.13 735.47 87.18 736 89.1 736.5C91.02 737 93.35 737.53 95.1 738C96.85 738.47 98.35 738.9 99.6 739.3C100.85 739.7 102.1 740.22 102.6 740.4L126.6 740.4Z"/><path class="dk" d="M126.6 423L126.72 423C126.73 435.83 126.75 477.17 126.77 500C126.79 522.83 126.7 541 126.84 560C126.98 579 127.43 603.33 127.58 614C127.73 624 127.69 621 127.75 624C127.81 627 127.88 629.83 127.96 632C128.03 634.17 128.11 635.5 128.2 637C128.29 638.5 128.27 639.5 128.5 641C128.73 642.5 129.25 644.5 129.6 646C129.95 647.5 130.57 648.75 130.6 650C130.63 651.25 130.07 652.3 129.8 653.5C129.53 654.7 129.1 655.78 129 657.2C128.9 658.62 129.08 660.2 129.2 662C129.32 663.8 129.43 666.33 129.7 668C129.97 669.67 130.4 670.8 130.8 672C131.2 673.2 132.03 674.03 132.1 675.2C132.17 676.37 131.5 677.8 131.2 679C130.9 680.2 130.7 681.23 130.3 682.4C129.9 683.57 129.18 684.8 128.8 686C128.42 687.2 128.14 687.93 128.04 689.6C127.94 691.27 128.12 693.6 128.2 696C128.28 698.4 128.42 701.5 128.5 704C128.58 706.5 128.62 708.6 128.7 711C128.78 713.4 128.87 716.57 129 718.4C129.13 720.23 129.28 720.8 129.5 722C129.72 723.2 129.78 724.63 130.3 725.6C130.82 726.57 131.55 727.07 132.6 727.8C133.65 728.53 135.18 729.3 136.6 730C138.02 730.7 139.85 731.38 141.1 732C142.35 732.62 144.02 733.2 144.1 733.7C144.18 734.2 142.55 734.55 141.6 735C140.65 735.45 139.73 735.93 138.4 736.4C137.07 736.87 135.1 737.37 133.6 737.8C132.1 738.23 130.48 738.6 129.4 739C128.32 739.4 127.48 740 127.1 740.2L126.6 740.2Z"/><path class="m" d="M91.05 714H126.35"/><path class="m" d="M126.7 679.3H162.6"/></g>
<g><path class="dk" d="M198.42 423L198.49 423C198.5 435.83 198.51 470.5 198.54 500C198.57 529.5 198.54 573.33 198.66 600C198.78 626.67 199.12 645.67 199.27 660C199.42 674.33 199.5 678.67 199.57 686C199.64 693.33 199.69 699.5 199.71 704C199.73 708.5 199.61 710.67 199.71 713C199.81 715.33 200.03 716.5 200.32 718C200.6 719.5 200.79 720.73 201.42 722C202.05 723.27 203.12 724.68 204.12 725.6C205.12 726.52 206.07 726.9 207.42 727.5C208.77 728.1 210.3 728.68 212.22 729.2C214.14 729.72 216.52 730.15 218.92 730.6C221.32 731.05 224.2 731.48 226.62 731.9C229.04 732.32 231.47 732.72 233.42 733.1C235.37 733.48 238.49 733.83 238.32 734.2C238.15 734.57 234.67 734.93 232.42 735.3C230.17 735.67 227.57 735.98 224.82 736.4C222.07 736.82 218.65 737.35 215.92 737.8C213.19 738.25 210.67 738.67 208.42 739.1C206.17 739.53 203.42 740.18 202.42 740.4L198.42 740.4Z"/><path class="m" d="M198.52 718.4H234.42"/></g>
<g><path class="dk" d="M270.24 496.5L270.3 496.5C270.3 507.08 270.32 536.08 270.34 560C270.36 583.92 270.3 618.33 270.41 640C270.51 661.67 270.8 677.83 270.96 690C271.12 702.17 271.26 708.33 271.39 713C271.52 717.67 271.58 716.5 271.76 718C271.94 719.5 272.09 720.83 272.44 722C272.79 723.17 273.24 724.1 273.84 725C274.44 725.9 275.14 726.7 276.04 727.4C276.94 728.1 277.96 728.63 279.24 729.2C280.52 729.77 281.12 730.2 283.74 730.8C286.36 731.4 290.69 732.27 294.94 732.8C299.19 733.33 304.59 733.62 309.24 734C313.89 734.38 322.09 734.73 322.84 735.1C323.59 735.47 316.89 735.83 313.74 736.2C310.59 736.57 307.11 736.92 303.94 737.3C300.77 737.68 297.69 738.12 294.74 738.5C291.79 738.88 288.49 739.28 286.24 739.6C283.99 739.92 282.07 740.27 281.24 740.4L270.24 740.4Z"/><path class="m" d="M270.34 730.1H306.24"/></g>
<g><path class="dk" d="M342.06 423L342.13 423C342.14 435.83 342.15 470.5 342.18 500C342.21 529.5 342.16 575 342.3 600C342.44 625 342.86 637.17 343.04 650C343.21 662.83 343.26 671 343.35 677C343.44 683 343.46 683.17 343.58 686C343.7 688.83 343.91 691.6 344.06 694C344.21 696.4 344.19 698.98 344.46 700.4C344.73 701.82 345.21 701.9 345.66 702.5C346.11 703.1 346.63 703.33 347.16 704C347.69 704.67 348.26 705.6 348.86 706.5C349.46 707.4 349.89 708.48 350.76 709.4C351.63 710.32 353.01 711.1 354.06 712C355.11 712.9 356.89 713.97 357.06 714.8C357.23 715.63 355.81 716.25 355.06 717C354.31 717.75 353.59 718.47 352.56 719.3C351.53 720.13 349.91 721.1 348.86 722C347.81 722.9 346.46 723.87 346.26 724.7C346.06 725.53 346.91 726.25 347.66 727C348.41 727.75 349.28 728.4 350.76 729.2C352.24 730 354.76 730.97 356.56 731.8C358.36 732.63 361.23 733.53 361.56 734.2C361.89 734.87 359.76 735.28 358.56 735.8C357.36 736.32 355.86 736.83 354.36 737.3C352.86 737.77 351.06 738.22 349.56 738.6C348.06 738.98 346.42 739.3 345.36 739.6C344.3 739.9 343.57 740.27 343.21 740.4L342.06 740.4Z"/><path class="m" d="M342.16 710.3H378.06"/></g>
<g><path class="dk" d="M413.88 422.6L414.18 422.6C414.35 423.83 414.95 427.77 415.17 430C415.39 432.23 415.33 434.23 415.48 436C415.63 437.77 416.09 438.93 416.08 440.6C416.07 442.27 415.55 443.6 415.4 446C415.25 448.4 415.12 452.83 415.17 455C415.22 457.17 415.33 457.83 415.68 459C416.03 460.17 416.66 461.02 417.28 462C417.9 462.98 419.31 463.98 419.38 464.9C419.45 465.82 418.26 466.48 417.68 467.5C417.1 468.52 416.11 469.58 415.88 471C415.65 472.42 416.15 474.17 416.28 476C416.41 477.83 416.78 480.5 416.68 482C416.58 483.5 415.96 484.1 415.68 485C415.4 485.9 414.93 486.48 415.03 487.4C415.13 488.32 415.8 489.45 416.28 490.5C416.75 491.55 417.81 492.62 417.88 493.7C417.95 494.78 417.03 495.95 416.68 497C416.33 498.05 415.9 498.67 415.78 500C415.66 501.33 415.9 503.2 415.98 505C416.06 506.8 416.3 509.3 416.28 510.8C416.26 512.3 415.96 512.8 415.88 514C415.8 515.2 415.68 516.67 415.78 518C415.88 519.33 416.18 520.5 416.48 522C416.78 523.5 417.28 525.5 417.58 527C417.88 528.5 418.13 529.8 418.28 531C418.43 532.2 418.65 533.03 418.48 534.2C418.31 535.37 417.73 536.8 417.28 538C416.83 539.2 415.93 540.07 415.78 541.4C415.63 542.73 416.18 544.5 416.38 546C416.58 547.5 417.03 548.9 416.98 550.4C416.93 551.9 416.37 553.5 416.08 555C415.79 556.5 415.35 557.57 415.24 559.4C415.13 561.23 415.44 563.9 415.4 566C415.36 568.1 415.08 568 415.03 572C414.98 576 415.13 584 415.1 590C415.07 596 414.89 599.67 414.86 608C414.83 616.33 414.97 629.67 414.94 640C414.92 650.33 414.74 660 414.73 670C414.72 680 414.97 692.83 414.86 700C414.75 707.17 414.19 710.83 414.06 713L413.88 713Z"/><path class="m" d="M413.98 476.2H449.88"/></g>
<g><path class="dk" d="M485.7 570L485.76 570C485.77 578.33 485.78 601.67 485.82 620C485.86 638.33 485.94 666 486 680C486.06 694 486.06 698.5 486.2 704C486.34 709.5 486.72 710.67 486.85 713C486.98 715.33 486.93 716.5 486.99 718C487.05 719.5 486.9 720.92 487.22 722C487.54 723.08 488.05 723.75 488.9 724.5C489.75 725.25 490.67 725.87 492.3 726.5C493.93 727.13 495.4 727.72 498.7 728.3C502 728.88 507.93 729.47 512.1 730C516.27 730.53 520.18 731.05 523.7 731.5C527.22 731.95 530.63 732.33 533.2 732.7C535.77 733.07 539.68 733.35 539.1 733.7C538.52 734.05 534.2 734.35 529.7 734.8C525.2 735.25 516.85 735.9 512.1 736.4C507.35 736.9 504.18 737.37 501.2 737.8C498.22 738.23 496.2 738.57 494.2 739C492.2 739.43 490.03 740.17 489.2 740.4L485.7 740.4Z"/><path class="m" d="M485.8 731H521.7"/></g>
<g><path class="dk" d="M557.52 423L557.58 423C557.59 435.83 557.59 474.17 557.64 500C557.69 525.83 557.72 559 557.86 578C558 597 558.37 605.33 558.5 614C558.63 622.67 558.62 625.5 558.67 630C558.72 634.5 558.72 638 558.81 641C558.9 644 559.07 645.9 559.22 648C559.37 650.1 559.57 651.77 559.72 653.6C559.87 655.43 559.97 657.2 560.12 659C560.27 660.8 560.29 662.9 560.62 664.4C560.95 665.9 561.52 666.8 562.12 668C562.72 669.2 563.55 670.43 564.22 671.6C564.89 672.77 565.67 673.8 566.12 675C566.57 676.2 566.92 677.55 566.92 678.8C566.92 680.05 566.57 681.3 566.12 682.5C565.67 683.7 564.92 684.92 564.22 686C563.52 687.08 562.57 688.1 561.92 689C561.27 689.9 560.72 690.07 560.32 691.4C559.92 692.73 559.7 694.9 559.52 697C559.34 699.1 559.24 701.83 559.22 704C559.2 706.17 559.34 707.9 559.42 710C559.5 712.1 559.59 715.02 559.72 716.6C559.85 718.18 560 718.6 560.22 719.5C560.44 720.4 560.55 721.08 561.02 722C561.49 722.92 562.34 724.1 563.02 725C563.7 725.9 564.55 726.6 565.12 727.4C565.69 728.2 566.12 729.05 566.42 729.8C566.72 730.55 567 731.25 566.92 731.9C566.84 732.55 566.37 733.1 565.92 733.7C565.47 734.3 564.89 734.9 564.22 735.5C563.55 736.1 562.67 736.7 561.92 737.3C561.17 737.9 560.33 738.6 559.72 739.1C559.11 739.6 558.49 740.1 558.24 740.3L557.52 740.3Z"/><path class="m" d="M557.62 678.2H593.52"/></g>
<g><path class="dk" d="M629.34 423L629.4 423C629.41 435.83 629.43 473.83 629.46 500C629.49 526.17 629.52 558 629.58 580C629.64 602 629.67 621.83 629.82 632C629.97 641 630.32 638.67 630.49 641C630.66 643.33 630.73 644.5 630.86 646C630.98 647.5 631.11 648.5 631.24 650C631.37 651.5 631.49 653.2 631.64 655C631.79 656.8 631.87 659.22 632.14 660.8C632.41 662.38 632.79 663.3 633.24 664.5C633.69 665.7 634.27 666.82 634.84 668C635.41 669.18 636.04 670.4 636.64 671.6C637.24 672.8 638.02 674.13 638.44 675.2C638.86 676.27 638.99 677.1 639.14 678C639.29 678.9 639.37 679.68 639.34 680.6C639.31 681.52 639.09 682.6 638.94 683.5C638.79 684.4 638.81 685.25 638.44 686C638.07 686.75 637.34 687.4 636.74 688C636.14 688.6 635.36 688.77 634.84 689.6C634.32 690.43 633.94 691.8 633.64 693C633.34 694.2 633.07 695.57 633.04 696.8C633.01 698.03 633.22 699.2 633.44 700.4C633.66 701.6 634.02 702.9 634.34 704C634.66 705.1 635.06 706.1 635.34 707C635.62 707.9 636.07 708.57 636.04 709.4C636.01 710.23 635.49 711.1 635.14 712C634.79 712.9 634.37 713.72 633.94 714.8C633.51 715.88 632.91 717.3 632.54 718.5C632.17 719.7 631.71 720.83 631.74 722C631.77 723.17 632.37 724.3 632.74 725.5C633.11 726.7 633.77 728.28 633.94 729.2C634.11 730.12 633.89 730.4 633.74 731C633.59 731.6 633.31 732.13 633.04 732.8C632.77 733.47 632.44 734.25 632.14 735C631.84 735.75 631.54 736.55 631.24 737.3C630.94 738.05 630.47 739.13 630.32 739.5L629.34 739.5Z"/><path class="m" d="M629.44 683.1H665.34"/></g>
<g><path class="dk" d="M701.16 423L701.22 423C701.22 435.83 701.24 470.5 701.26 500C701.28 529.5 701.22 575 701.33 600C701.43 625 701.74 638.67 701.88 650C702.02 661.33 702.07 663.33 702.14 668C702.21 672.67 702.23 675 702.31 678C702.39 681 702.46 683.83 702.6 686C702.74 688.17 702.98 689.5 703.16 691C703.34 692.5 703.49 693.5 703.66 695C703.83 696.5 703.91 698.33 704.16 700C704.41 701.67 704.76 703.58 705.16 705C705.56 706.42 706.14 707.47 706.56 708.5C706.98 709.53 707.29 710.45 707.66 711.2C708.03 711.95 708.46 712.4 708.76 713C709.06 713.6 709.46 714.13 709.46 714.8C709.46 715.47 709.01 716.25 708.76 717C708.51 717.75 708.19 718.55 707.96 719.3C707.73 720.05 707.48 720.75 707.36 721.5C707.24 722.25 706.93 723.05 707.26 723.8C707.59 724.55 708.39 725.25 709.36 726C710.33 726.75 711.84 727.6 713.06 728.3C714.28 729 715.48 729.6 716.66 730.2C717.84 730.8 719.16 731.4 720.16 731.9C721.16 732.4 722.11 732.82 722.66 733.2C723.21 733.58 723.88 733.8 723.46 734.2C723.04 734.6 721.59 735.08 720.16 735.6C718.73 736.12 716.44 736.8 714.86 737.3C713.28 737.8 711.86 738.22 710.66 738.6C709.46 738.98 708.49 739.3 707.66 739.6C706.83 739.9 705.99 740.27 705.66 740.4L701.16 740.4Z"/><path class="m" d="M701.26 706.7H737.16"/></g>
<g><path class="dk" d="M772.98 423L773.04 423C773.05 435.83 773.07 473.83 773.1 500C773.13 526.17 773.18 560.83 773.22 580C773.26 599.17 773.2 607.83 773.32 615C773.44 622.17 773.76 620.83 773.96 623C774.16 625.17 774.3 626.5 774.5 628C774.7 629.5 775.17 630.67 775.18 632C775.19 633.33 774.73 634.8 774.58 636C774.43 637.2 774.2 637.7 774.27 639.2C774.34 640.7 774.74 643.2 774.98 645C775.21 646.8 775.48 648.33 775.68 650C775.88 651.67 775.96 653.2 776.18 655C776.4 656.8 776.73 659.22 776.98 660.8C777.23 662.38 777.48 663.3 777.68 664.5C777.88 665.7 778.08 666.67 778.18 668C778.28 669.33 778.33 671 778.28 672.5C778.23 674 778.13 675.42 777.88 677C777.63 678.58 777.1 680.5 776.78 682C776.46 683.5 775.88 684.83 775.98 686C776.08 687.17 776.76 687.95 777.38 689C778 690.05 779.58 691.3 779.68 692.3C779.78 693.3 778.6 694.1 777.98 695C777.36 695.9 776.51 696.87 775.98 697.7C775.45 698.53 775.05 699.25 774.78 700C774.51 700.75 774.21 701.53 774.34 702.2C774.47 702.87 774.84 703.4 775.58 704C776.32 704.6 777.46 705.13 778.78 705.8C780.1 706.47 782.2 707.32 783.48 708C784.76 708.68 786.56 709.23 786.48 709.9C786.4 710.57 784.26 711.33 782.98 712C781.7 712.67 779.95 713.28 778.78 713.9C777.61 714.52 776.68 715.1 775.98 715.7C775.28 716.3 774.78 716.62 774.58 717.5C774.38 718.38 774.68 719.65 774.78 721C774.88 722.35 775.06 724.27 775.18 725.6C775.3 726.93 775.4 727.8 775.48 729C775.56 730.2 775.8 731.63 775.68 732.8C775.56 733.97 775.04 735.1 774.78 736C774.52 736.9 774.38 737.53 774.13 738.2C773.88 738.87 773.42 739.7 773.28 740L772.98 740Z"/><path class="m" d="M773.08 671.9H808.98"/></g>
<rect class="ax" x="62" y="421.45" width="775.3" height="318.95"/>
<path class="ax" d="M54.1 740.4H62M54.1 687.24H62M54.1 634.08H62M54.1 580.92H62M54.1 527.77H62M54.1 474.61H62M54.1 421.45H62M126.6 740.4V749.1M198.42 740.4V749.1M270.24 740.4V749.1M342.06 740.4V749.1M413.88 740.4V749.1M485.7 740.4V749.1M557.52 740.4V749.1M629.34 740.4V749.1M701.16 740.4V749.1M772.98 740.4V749.1"/>
<text class="t" font-size="28" text-anchor="middle" transform="translate(43.9 740.4) rotate(-90) scale(0.97 1)">0</text>
<text class="t" font-size="28" text-anchor="middle" transform="translate(43.9 634.08) rotate(-90) scale(0.97 1)">0.1</text>
<text class="t" font-size="28" text-anchor="middle" transform="translate(43.9 527.77) rotate(-90) scale(0.97 1)">0.2</text>
<text class="t" font-size="28" text-anchor="middle" transform="translate(43.9 421.45) rotate(-90) scale(0.97 1)">0.3</text>
<text class="t tt" font-size="34.3" transform="translate(140.408 407.3) scale(0.9488 1)">Chlorophyll (mg/m3)</text>
<text class="l" font-size="30.2" transform="translate(-0.2 400.1) scale(1.0 1.0)">C</text>
</g>
<g id="panel-D">
<g><path class="lt" d="M954.7 640L954.59 640C954.52 643.47 954.37 655.53 954.2 660.8C954.03 666.07 953.72 668.9 953.55 671.6C953.38 674.3 953.36 675.2 953.18 677C953.01 678.8 952.68 680.9 952.5 682.4C952.32 683.9 952.23 684.8 952.1 686C951.97 687.2 951.87 688.4 951.7 689.6C951.53 690.8 951.32 692 951.1 693.2C950.88 694.4 950.67 695.75 950.4 696.8C950.13 697.85 949.87 698.6 949.5 699.5C949.13 700.4 948.83 701.28 948.2 702.2C947.57 703.12 946.68 704.1 945.7 705C944.72 705.9 943.5 706.8 942.3 707.6C941.1 708.4 939.85 709.07 938.5 709.8C937.15 710.53 935.67 711.25 934.2 712C932.73 712.75 931.2 713.53 929.7 714.3C928.2 715.07 926.33 715.92 925.2 716.6C924.07 717.28 923.57 717.8 922.9 718.4C922.23 719 921.65 719.6 921.2 720.2C920.75 720.8 920.43 721.4 920.2 722C919.97 722.6 919.77 723.2 919.8 723.8C919.83 724.4 920.08 725 920.4 725.6C920.72 726.2 921.12 726.8 921.7 727.4C922.28 728 923.02 728.6 923.9 729.2C924.78 729.8 925.87 730.4 927 731C928.13 731.6 929.35 732.2 930.7 732.8C932.05 733.4 933.83 734.07 935.1 734.6C936.37 735.13 937.25 735.55 938.3 736C939.35 736.45 940.42 736.88 941.4 737.3C942.38 737.72 943.32 738.05 944.2 738.5C945.08 738.95 946.28 739.75 946.7 740L954.7 740Z"/><path class="dk" d="M954.7 422.6L954.81 422.6C954.84 427.17 954.9 442.1 955 450C955.1 457.9 955.31 464.67 955.42 470C955.53 475.33 955.55 479.17 955.68 482C955.81 484.83 956.05 485.5 956.22 487C956.39 488.5 956.69 489.58 956.7 491C956.71 492.42 956.39 494 956.3 495.5C956.21 497 956.18 498.42 956.14 500C956.1 501.58 956.05 503.2 956.06 505C956.07 506.8 955.91 509.22 956.22 510.8C956.53 512.38 957.22 513.3 957.9 514.5C958.58 515.7 959.43 516.75 960.3 518C961.17 519.25 962.3 520.67 963.1 522C963.9 523.33 965.1 524.8 965.1 526C965.1 527.2 963.9 528.13 963.1 529.2C962.3 530.27 961.13 531.27 960.3 532.4C959.47 533.53 958.7 534.8 958.1 536C957.5 537.2 956.77 538.1 956.7 539.6C956.63 541.1 957.32 543.2 957.7 545C958.08 546.8 958.57 548.48 959 550.4C959.43 552.32 959.93 554.4 960.3 556.5C960.67 558.6 961.15 561.17 961.2 563C961.25 564.83 960.85 566 960.6 567.5C960.35 569 959.95 570.42 959.7 572C959.45 573.58 959.3 575.2 959.1 577C958.9 578.8 958.7 580.63 958.5 582.8C958.3 584.97 958.05 587.6 957.9 590C957.75 592.4 957.53 595.37 957.6 597.2C957.67 599.03 958 599.8 958.3 601C958.6 602.2 959 603.13 959.4 604.4C959.8 605.67 960.35 607.25 960.7 608.6C961.05 609.95 961.43 611.27 961.5 612.5C961.57 613.73 961.3 614.85 961.1 616C960.9 617.15 960.57 617.9 960.3 619.4C960.03 620.9 959.72 622.9 959.5 625C959.28 627.1 959 629.83 959 632C959 634.17 959.28 635.9 959.5 638C959.72 640.1 960 643.02 960.3 644.6C960.6 646.18 961 646.6 961.3 647.5C961.6 648.4 961.92 648.75 962.1 650C962.28 651.25 962.32 653.2 962.4 655C962.48 656.8 962.42 659.13 962.6 660.8C962.78 662.47 963.23 663.65 963.5 665C963.77 666.35 964.2 667.57 964.2 668.9C964.2 670.23 963.77 671.65 963.5 673C963.23 674.35 962.9 675.58 962.6 677C962.3 678.42 962 680 961.7 681.5C961.4 683 961.1 684.65 960.8 686C960.5 687.35 960.2 688.4 959.9 689.6C959.6 690.8 959.4 691.97 959 693.2C958.6 694.43 957.98 695.8 957.5 697C957.02 698.2 956.43 699.23 956.14 700.4C955.85 701.57 955.84 700.73 955.77 704C955.69 707.27 955.72 714.08 955.68 720C955.64 725.92 955.57 736.25 955.55 739.5L954.7 739.5Z"/><path class="m" d="M919.15 703.4H954.45"/><path class="m" d="M954.8 608.6H990.7"/></g>
<g><path class="dk" d="M1026.52 422.6L1026.63 422.6C1026.66 428.83 1026.72 447.1 1026.82 460C1026.92 472.9 1027.1 490.33 1027.24 500C1027.38 509.67 1027.56 513.5 1027.67 518C1027.78 522.5 1027.8 524 1027.88 527C1027.95 530 1027.96 533 1028.12 536C1028.28 539 1028.59 542 1028.82 545C1029.05 548 1029.24 551.67 1029.52 554C1029.8 556.33 1030.2 557.35 1030.52 559C1030.84 560.65 1031.45 562.4 1031.42 563.9C1031.39 565.4 1030.69 566.65 1030.32 568C1029.95 569.35 1029.47 569.83 1029.22 572C1028.97 574.17 1028.9 578 1028.82 581C1028.74 584 1028.8 587.5 1028.72 590C1028.64 592.5 1028.32 594 1028.32 596C1028.32 598 1028.57 600 1028.72 602C1028.87 604 1028.92 606 1029.22 608C1029.52 610 1030.19 612.08 1030.52 614C1030.85 615.92 1031.02 617.7 1031.22 619.5C1031.42 621.3 1031.54 623.05 1031.72 624.8C1031.9 626.55 1032.14 628.2 1032.32 630C1032.5 631.8 1032.87 633.93 1032.82 635.6C1032.77 637.27 1032.32 638.5 1032.02 640C1031.72 641.5 1031.25 643.1 1031.02 644.6C1030.79 646.1 1030.7 647.5 1030.62 649C1030.54 650.5 1030.3 651.93 1030.52 653.6C1030.74 655.27 1031.32 657.2 1031.92 659C1032.52 660.8 1033.45 662.9 1034.12 664.4C1034.79 665.9 1035.42 666.8 1035.92 668C1036.42 669.2 1037.02 670.1 1037.12 671.6C1037.22 673.1 1036.72 675.2 1036.52 677C1036.32 678.8 1036.09 680.57 1035.92 682.4C1035.75 684.23 1035.62 686.2 1035.52 688C1035.42 689.8 1035.27 691.45 1035.32 693.2C1035.37 694.95 1035.64 696.7 1035.82 698.5C1036 700.3 1036.2 702.17 1036.42 704C1036.64 705.83 1036.9 707.7 1037.12 709.5C1037.34 711.3 1037.67 713.3 1037.72 714.8C1037.77 716.3 1037.57 717.3 1037.42 718.5C1037.27 719.7 1037.1 720.82 1036.82 722C1036.54 723.18 1036.17 724.4 1035.72 725.6C1035.27 726.8 1034.67 728.13 1034.12 729.2C1033.57 730.27 1033.02 731.1 1032.42 732C1031.82 732.9 1031.1 733.77 1030.52 734.6C1029.94 735.43 1029.39 736.27 1028.92 737C1028.45 737.73 1028.04 738.5 1027.67 739C1027.3 739.5 1026.86 739.83 1026.7 740L1026.52 740Z"/><path class="m" d="M1026.62 660.4H1062.52"/></g>
<g><path class="dk" d="M1098.34 473L1098.42 473C1098.44 477.5 1098.45 490.5 1098.52 500C1098.59 509.5 1098.71 521 1098.84 530C1098.97 539 1099.21 547.33 1099.32 554C1099.43 560.67 1099.45 566 1099.49 570C1099.53 574 1099.53 574.67 1099.56 578C1099.6 581.33 1099.6 587 1099.7 590C1099.8 593 1100.03 593.5 1100.14 596C1100.25 598.5 1100.26 602 1100.34 605C1100.42 608 1100.49 611 1100.64 614C1100.79 617 1101.02 620 1101.24 623C1101.46 626 1101.72 629.83 1101.94 632C1102.16 634.17 1102.36 634.8 1102.54 636C1102.72 637.2 1102.94 637.78 1103.04 639.2C1103.14 640.62 1103.09 642.7 1103.14 644.5C1103.19 646.3 1103.16 648.17 1103.34 650C1103.52 651.83 1103.94 653.7 1104.24 655.5C1104.54 657.3 1104.87 659.05 1105.14 660.8C1105.41 662.55 1105.59 664.2 1105.84 666C1106.09 667.8 1106.36 669.77 1106.64 671.6C1106.92 673.43 1107.24 675.2 1107.54 677C1107.84 678.8 1108.31 680.73 1108.44 682.4C1108.57 684.07 1108.44 685.5 1108.34 687C1108.24 688.5 1108.17 690.23 1107.84 691.4C1107.51 692.57 1106.79 693.1 1106.34 694C1105.89 694.9 1105.36 695.97 1105.14 696.8C1104.92 697.63 1104.97 698.25 1105.04 699C1105.11 699.75 1105.06 700.38 1105.54 701.3C1106.02 702.22 1107.11 703.45 1107.94 704.5C1108.77 705.55 1109.71 706.63 1110.54 707.6C1111.37 708.57 1112.19 709.4 1112.94 710.3C1113.69 711.2 1114.41 712.05 1115.04 713C1115.67 713.95 1116.29 714.95 1116.74 716C1117.19 717.05 1117.74 718.22 1117.74 719.3C1117.74 720.38 1117.19 721.45 1116.74 722.5C1116.29 723.55 1115.61 724.63 1115.04 725.6C1114.47 726.57 1113.94 727.4 1113.34 728.3C1112.74 729.2 1112.11 730.17 1111.44 731C1110.77 731.83 1110.09 732.55 1109.34 733.3C1108.59 734.05 1107.84 734.83 1106.94 735.5C1106.04 736.17 1104.99 736.7 1103.94 737.3C1102.89 737.9 1101.49 738.65 1100.64 739.1C1099.79 739.55 1099.14 739.85 1098.84 740L1098.34 740Z"/><path class="m" d="M1098.44 687.9H1134.34"/></g>
<g><path class="dk" d="M1170.16 424.4L1170.27 424.4C1170.4 425.67 1170.83 429.4 1171.01 432C1171.19 434.6 1171.28 437.67 1171.38 440C1171.48 442.33 1171.6 443.5 1171.6 446C1171.6 448.5 1171.43 452 1171.38 455C1171.33 458 1171.27 461 1171.31 464C1171.35 467 1171.49 470 1171.6 473C1171.71 476 1171.8 479 1171.96 482C1172.12 485 1172.38 488 1172.56 491C1172.74 494 1173.08 497.58 1173.06 500C1173.04 502.42 1172.64 503.7 1172.46 505.5C1172.28 507.3 1171.94 508.72 1171.96 510.8C1171.98 512.88 1172.33 515.6 1172.56 518C1172.79 520.4 1172.99 523.03 1173.36 525.2C1173.73 527.37 1174.29 529.2 1174.76 531C1175.23 532.8 1175.86 534.57 1176.16 536C1176.46 537.43 1176.48 538.4 1176.56 539.6C1176.64 540.8 1176.78 541.72 1176.66 543.2C1176.54 544.68 1176.16 546.7 1175.86 548.5C1175.56 550.3 1175.14 552.17 1174.86 554C1174.58 555.83 1174.34 557.7 1174.16 559.5C1173.98 561.3 1173.83 562.92 1173.76 564.8C1173.69 566.68 1173.68 569 1173.76 570.8C1173.84 572.6 1174.03 574.23 1174.26 575.6C1174.49 576.97 1174.79 577.8 1175.16 579C1175.53 580.2 1175.99 581.63 1176.46 582.8C1176.93 583.97 1177.31 584.8 1177.96 586C1178.61 587.2 1179.63 588.9 1180.36 590C1181.09 591.1 1181.69 591.73 1182.36 592.6C1183.03 593.47 1183.83 594.27 1184.36 595.2C1184.89 596.13 1185.29 597.2 1185.56 598.2C1185.83 599.2 1186.29 600.3 1185.96 601.2C1185.63 602.1 1184.43 602.87 1183.56 603.6C1182.69 604.33 1181.73 604.87 1180.76 605.6C1179.79 606.33 1178.69 607.2 1177.76 608C1176.83 608.8 1175.83 609.57 1175.16 610.4C1174.49 611.23 1174.11 612.1 1173.76 613C1173.41 613.9 1173.18 614.63 1173.06 615.8C1172.94 616.97 1173.01 618.5 1173.06 620C1173.11 621.5 1173.21 623.38 1173.36 624.8C1173.51 626.22 1173.71 627.3 1173.96 628.5C1174.21 629.7 1174.43 630.67 1174.86 632C1175.29 633.33 1175.96 635 1176.56 636.5C1177.16 638 1177.89 639.58 1178.46 641C1179.03 642.42 1179.61 643.8 1179.96 645C1180.31 646.2 1180.63 647.2 1180.56 648.2C1180.49 649.2 1180.01 650.1 1179.56 651C1179.11 651.9 1178.46 652.72 1177.86 653.6C1177.26 654.48 1176.56 655.4 1175.96 656.3C1175.36 657.2 1174.68 657.8 1174.26 659C1173.84 660.2 1173.66 662 1173.46 663.5C1173.26 665 1173.18 665.75 1173.06 668C1172.94 670.25 1172.86 674 1172.76 677C1172.66 680 1172.56 683.33 1172.46 686C1172.36 688.67 1172.24 690.6 1172.16 693C1172.08 695.4 1171.94 698.57 1171.96 700.4C1171.98 702.23 1172.18 702.8 1172.26 704C1172.34 705.2 1172.51 706.1 1172.46 707.6C1172.41 709.1 1172.14 711.2 1171.96 713C1171.78 714.8 1171.52 716.4 1171.38 718.4C1171.24 720.4 1171.22 722.6 1171.14 725C1171.06 727.4 1171.01 730.37 1170.88 732.8C1170.75 735.23 1170.43 738.47 1170.34 739.6L1170.16 739.6Z"/><path class="m" d="M1170.26 598.3H1206.16"/></g>
<g><path class="dk" d="M1241.98 603L1242.09 603C1242.16 605 1242.38 610.17 1242.48 615C1242.58 619.83 1242.57 628.33 1242.7 632C1242.83 635.67 1242.99 635.5 1243.27 637C1243.55 638.5 1243.96 639.67 1244.38 641C1244.8 642.33 1245.36 643.8 1245.78 645C1246.2 646.2 1246.78 647.2 1246.88 648.2C1246.98 649.2 1246.5 650.1 1246.38 651C1246.26 651.9 1246.05 652.68 1246.18 653.6C1246.31 654.52 1246.66 655.6 1247.18 656.5C1247.7 657.4 1248.4 658.25 1249.28 659C1250.16 659.75 1251.2 660.37 1252.48 661C1253.76 661.63 1255.26 662.23 1256.98 662.8C1258.7 663.37 1260.78 663.83 1262.78 664.4C1264.78 664.97 1266.81 665.6 1268.98 666.2C1271.15 666.8 1273.51 667.4 1275.78 668C1278.05 668.6 1280.46 669.2 1282.58 669.8C1284.7 670.4 1286.75 671 1288.48 671.6C1290.21 672.2 1291.81 672.8 1292.98 673.4C1294.15 674 1295.73 674.6 1295.48 675.2C1295.23 675.8 1292.98 676.47 1291.48 677C1289.98 677.53 1288.26 677.95 1286.48 678.4C1284.7 678.85 1283.03 679.23 1280.78 679.7C1278.53 680.17 1275.53 680.7 1272.98 681.2C1270.43 681.7 1267.78 682.2 1265.48 682.7C1263.18 683.2 1261.06 683.65 1259.18 684.2C1257.3 684.75 1255.45 685.45 1254.18 686C1252.91 686.55 1252.25 687.05 1251.58 687.5C1250.91 687.95 1250.68 688.12 1250.18 688.7C1249.68 689.28 1249.03 690.25 1248.58 691C1248.13 691.75 1247.88 692.37 1247.48 693.2C1247.08 694.03 1246.58 695.1 1246.18 696C1245.78 696.9 1245.43 697.72 1245.08 698.6C1244.73 699.48 1244.37 700.4 1244.08 701.3C1243.79 702.2 1243.53 702.22 1243.34 704C1243.15 705.78 1243.07 708.5 1242.96 712C1242.85 715.5 1242.84 720.63 1242.7 725C1242.56 729.37 1242.19 736 1242.09 738.2L1241.98 738.2Z"/><path class="m" d="M1242.08 674.5H1277.98"/></g>
<g><path class="dk" d="M1313.8 525.2L1313.88 525.2C1313.92 528.5 1313.99 539.2 1314.1 545C1314.21 550.8 1314.41 555.5 1314.52 560C1314.63 564.5 1314.71 569 1314.78 572C1314.85 575 1314.9 576.5 1314.95 578C1315 579.5 1314.98 579.67 1315.09 581C1315.2 582.33 1315.41 584.5 1315.6 586C1315.78 587.5 1316 588.73 1316.2 590C1316.4 591.27 1316.55 592.6 1316.8 593.6C1317.05 594.6 1317.37 595.02 1317.7 596C1318.03 596.98 1318.5 598.3 1318.8 599.5C1319.1 600.7 1319.45 602.12 1319.5 603.2C1319.55 604.28 1319.2 605.1 1319.1 606C1319 606.9 1318.62 607.6 1318.9 608.6C1319.18 609.6 1319.95 610.8 1320.8 612C1321.65 613.2 1323.17 614.68 1324 615.8C1324.83 616.92 1325.27 617.8 1325.8 618.7C1326.33 619.6 1326.82 620.43 1327.2 621.2C1327.58 621.97 1327.88 622.65 1328.1 623.3C1328.32 623.95 1328.75 624.38 1328.5 625.1C1328.25 625.82 1327.35 626.75 1326.6 627.6C1325.85 628.45 1324.97 629.3 1324 630.2C1323.03 631.1 1321.7 632.1 1320.8 633C1319.9 633.9 1319.17 634.72 1318.6 635.6C1318.03 636.48 1317.65 637.4 1317.4 638.3C1317.15 639.2 1316.97 640.05 1317.1 641C1317.23 641.95 1317.8 643.1 1318.2 644C1318.6 644.9 1319.18 645.4 1319.5 646.4C1319.82 647.4 1319.95 648.8 1320.1 650C1320.25 651.2 1320.48 652.43 1320.4 653.6C1320.32 654.77 1319.9 655.95 1319.6 657C1319.3 658.05 1318.93 658.9 1318.6 659.9C1318.27 660.9 1317.87 661.9 1317.6 663C1317.33 664.1 1317.08 665.5 1317 666.5C1316.92 667.5 1316.98 668.15 1317.1 669C1317.22 669.85 1317.32 670.72 1317.7 671.6C1318.08 672.48 1318.8 673.4 1319.4 674.3C1320 675.2 1320.7 676.1 1321.3 677C1321.9 677.9 1322.55 678.8 1323 679.7C1323.45 680.6 1323.87 681.52 1324 682.4C1324.13 683.28 1323.87 684.1 1323.8 685C1323.73 685.9 1323.63 686.88 1323.6 687.8C1323.57 688.72 1323.53 689.6 1323.6 690.5C1323.67 691.4 1323.6 692.28 1324 693.2C1324.4 694.12 1325.25 695.1 1326 696C1326.75 696.9 1327.73 697.77 1328.5 698.6C1329.27 699.43 1330 700.25 1330.6 701C1331.2 701.75 1332.3 702.37 1332.1 703.1C1331.9 703.83 1330.45 704.65 1329.4 705.4C1328.35 706.15 1327 706.85 1325.8 707.6C1324.6 708.35 1323.25 709.15 1322.2 709.9C1321.15 710.65 1320.13 711.35 1319.5 712.1C1318.87 712.85 1318.62 713.65 1318.4 714.4C1318.18 715.15 1318.13 715.78 1318.2 716.6C1318.27 717.42 1318.58 718.4 1318.8 719.3C1319.02 720.2 1319.23 721.05 1319.5 722C1319.77 722.95 1320.17 723.95 1320.4 725C1320.63 726.05 1320.9 727.37 1320.9 728.3C1320.9 729.23 1320.63 729.85 1320.4 730.6C1320.17 731.35 1319.93 732.07 1319.5 732.8C1319.07 733.53 1318.4 734.25 1317.8 735C1317.2 735.75 1316.45 736.58 1315.9 737.3C1315.35 738.02 1314.75 738.97 1314.52 739.3L1313.8 739.3Z"/><path class="m" d="M1313.9 665.3H1349.8"/></g>
<g><path class="dk" d="M1385.62 422.6L1385.73 422.6C1385.8 425.5 1386 433.77 1386.12 440C1386.24 446.23 1386.41 453.33 1386.47 460C1386.53 466.67 1386.45 474.83 1386.47 480C1386.49 485.17 1386.55 488 1386.6 491C1386.65 494 1386.71 495.9 1386.77 498C1386.83 500.1 1386.77 502.07 1386.98 503.6C1387.19 505.13 1387.58 506 1388.02 507.2C1388.46 508.4 1389.05 509.6 1389.62 510.8C1390.19 512 1390.82 513.2 1391.42 514.4C1392.02 515.6 1392.59 516.73 1393.22 518C1393.85 519.27 1394.69 520.65 1395.22 522C1395.75 523.35 1396.42 524.77 1396.42 526.1C1396.42 527.43 1395.75 528.65 1395.22 530C1394.69 531.35 1393.74 533.03 1393.22 534.2C1392.7 535.37 1392.42 536.1 1392.12 537C1391.82 537.9 1391.6 538.6 1391.42 539.6C1391.24 540.6 1391.12 541.8 1391.02 543C1390.92 544.2 1390.97 545.55 1390.82 546.8C1390.67 548.05 1390.32 549.3 1390.12 550.5C1389.92 551.7 1389.65 552.67 1389.62 554C1389.59 555.33 1389.84 557 1389.92 558.5C1390 560 1390.14 561.5 1390.12 563C1390.1 564.5 1389.9 566 1389.82 567.5C1389.74 569 1389.67 569.75 1389.62 572C1389.57 574.25 1389.52 578 1389.52 581C1389.52 584 1389.47 587.58 1389.62 590C1389.77 592.42 1390.12 593.7 1390.42 595.5C1390.72 597.3 1390.99 599.22 1391.42 600.8C1391.85 602.38 1392.52 603.5 1393.02 605C1393.52 606.5 1394.15 608.75 1394.42 609.8C1394.69 610.85 1394.75 610.52 1394.62 611.3C1394.49 612.08 1394 613.45 1393.62 614.5C1393.24 615.55 1392.79 616.48 1392.32 617.6C1391.85 618.72 1391.27 620 1390.82 621.2C1390.37 622.4 1389.9 623.33 1389.62 624.8C1389.34 626.27 1389.22 628.2 1389.12 630C1389.02 631.8 1388.87 633.93 1389.02 635.6C1389.17 637.27 1389.62 638.5 1390.02 640C1390.42 641.5 1390.92 643.23 1391.42 644.6C1391.92 645.97 1392.57 647 1393.02 648.2C1393.47 649.4 1394.19 650.67 1394.12 651.8C1394.05 652.93 1393.17 653.97 1392.62 655C1392.07 656.03 1391.42 656.97 1390.82 658C1390.22 659.03 1389.52 660.13 1389.02 661.2C1388.52 662.27 1388.1 662.93 1387.82 664.4C1387.54 665.87 1387.42 667.9 1387.32 670C1387.22 672.1 1387.17 675.08 1387.22 677C1387.27 678.92 1387.44 680 1387.62 681.5C1387.8 683 1388.05 684.58 1388.32 686C1388.59 687.42 1388.95 688.67 1389.22 690C1389.49 691.33 1389.92 692.67 1389.92 694C1389.92 695.33 1389.49 696.63 1389.22 698C1388.95 699.37 1388.59 700.78 1388.32 702.2C1388.05 703.62 1387.8 705 1387.62 706.5C1387.44 708 1387.34 709.62 1387.22 711.2C1387.1 712.78 1386.98 714.2 1386.91 716C1386.83 717.8 1386.87 719.67 1386.77 722C1386.67 724.33 1386.51 727.6 1386.34 730C1386.17 732.4 1385.83 735.33 1385.73 736.4L1385.62 736.4Z"/><path class="m" d="M1385.72 587.6H1421.62"/></g>
<g><path class="dk" d="M1457.44 424.4L1457.55 424.4C1457.62 426.17 1457.8 432 1457.94 435C1458.08 438 1458.24 440.57 1458.42 442.4C1458.6 444.23 1458.67 444.8 1459.04 446C1459.41 447.2 1460.01 448.4 1460.64 449.6C1461.27 450.8 1462.09 452 1462.84 453.2C1463.59 454.4 1464.56 455.83 1465.14 456.8C1465.72 457.77 1466.04 458.25 1466.34 459C1466.64 459.75 1467.09 460.55 1466.94 461.3C1466.79 462.05 1466.04 462.75 1465.44 463.5C1464.84 464.25 1464.07 464.97 1463.34 465.8C1462.61 466.63 1461.72 467.6 1461.04 468.5C1460.36 469.4 1459.62 469.95 1459.24 471.2C1458.86 472.45 1458.83 474.2 1458.73 476C1458.63 477.8 1458.66 479.5 1458.66 482C1458.66 484.5 1458.69 488 1458.73 491C1458.77 494 1458.76 497.58 1458.88 500C1459 502.42 1459.15 503.7 1459.44 505.5C1459.73 507.3 1460.16 509.17 1460.64 510.8C1461.12 512.43 1461.74 513.8 1462.34 515.3C1462.94 516.8 1463.62 518.45 1464.24 519.8C1464.86 521.15 1465.52 522.2 1466.04 523.4C1466.56 524.6 1467.41 525.8 1467.34 527C1467.27 528.2 1466.31 529.4 1465.64 530.6C1464.97 531.8 1463.94 533.13 1463.34 534.2C1462.74 535.27 1462.34 536.1 1462.04 537C1461.74 537.9 1461.44 538.57 1461.54 539.6C1461.64 540.63 1462.34 542 1462.64 543.2C1462.94 544.4 1463.41 545.58 1463.34 546.8C1463.27 548.02 1462.54 549.3 1462.24 550.5C1461.94 551.7 1461.54 552.67 1461.54 554C1461.54 555.33 1462.02 557 1462.24 558.5C1462.46 560 1462.81 561.5 1462.84 563C1462.87 564.5 1462.56 566 1462.44 567.5C1462.32 569 1462.07 570.33 1462.14 572C1462.21 573.67 1462.64 575.7 1462.84 577.5C1463.04 579.3 1463.34 581.3 1463.34 582.8C1463.34 584.3 1462.99 585.3 1462.84 586.5C1462.69 587.7 1462.49 588.5 1462.44 590C1462.39 591.5 1462.47 593.7 1462.54 595.5C1462.61 597.3 1462.56 599.32 1462.84 600.8C1463.12 602.28 1463.71 603.2 1464.24 604.4C1464.77 605.6 1465.54 606.9 1466.04 608C1466.54 609.1 1466.94 610 1467.24 611C1467.54 612 1467.94 612.9 1467.84 614C1467.74 615.1 1467.09 616.4 1466.64 617.6C1466.19 618.8 1465.74 620 1465.14 621.2C1464.54 622.4 1463.64 623.6 1463.04 624.8C1462.44 626 1461.89 626.9 1461.54 628.4C1461.19 629.9 1461.02 632 1460.94 633.8C1460.86 635.6 1460.89 637.67 1461.04 639.2C1461.19 640.73 1461.54 641.8 1461.84 643C1462.14 644.2 1462.37 645.3 1462.84 646.4C1463.31 647.5 1464.16 648.55 1464.64 649.6C1465.12 650.65 1465.87 651.65 1465.74 652.7C1465.61 653.75 1464.54 654.85 1463.84 655.9C1463.14 656.95 1462.21 658.03 1461.54 659C1460.87 659.97 1460.28 660.8 1459.84 661.7C1459.4 662.6 1459.08 663.02 1458.88 664.4C1458.68 665.78 1458.7 668.2 1458.66 670C1458.62 671.8 1458.64 673.37 1458.66 675.2C1458.68 677.03 1458.7 679.2 1458.8 681C1458.9 682.8 1459 684.72 1459.24 686C1459.48 687.28 1459.86 687.8 1460.24 688.7C1460.62 689.6 1461.12 690.57 1461.54 691.4C1461.96 692.23 1462.44 692.95 1462.74 693.7C1463.04 694.45 1463.42 695.15 1463.34 695.9C1463.26 696.65 1462.69 697.45 1462.24 698.2C1461.79 698.95 1461.14 699.6 1460.64 700.4C1460.14 701.2 1459.57 702.1 1459.24 703C1458.91 703.9 1458.82 704.63 1458.66 705.8C1458.5 706.97 1458.37 708.5 1458.29 710C1458.21 711.5 1458.28 712.8 1458.16 714.8C1458.04 716.8 1457.65 720.8 1457.55 722L1457.44 722Z"/><path class="m" d="M1457.54 574.7H1493.44"/></g>
<g><path class="dk" d="M1529.26 435.2L1529.34 435.2C1529.36 441 1529.37 455.87 1529.44 470C1529.51 484.13 1529.67 504.5 1529.76 520C1529.85 535.5 1529.87 554.33 1529.98 563C1530.09 571.67 1530.28 569.75 1530.41 572C1530.54 574.25 1530.57 575 1530.78 576.5C1530.99 578 1531.36 579.5 1531.66 581C1531.96 582.5 1532.26 584 1532.56 585.5C1532.86 587 1533.14 588.5 1533.46 590C1533.78 591.5 1534.11 592.95 1534.46 594.5C1534.81 596.05 1535.33 597.72 1535.56 599.3C1535.79 600.88 1535.76 602.5 1535.86 604C1535.96 605.5 1535.86 606.97 1536.16 608.3C1536.46 609.63 1537.16 610.8 1537.66 612C1538.16 613.2 1538.69 614.42 1539.16 615.5C1539.63 616.58 1540.06 617.55 1540.46 618.5C1540.86 619.45 1541.28 620.45 1541.56 621.2C1541.84 621.95 1542.01 622.4 1542.16 623C1542.31 623.6 1542.58 624.13 1542.46 624.8C1542.34 625.47 1541.91 626.25 1541.46 627C1541.01 627.75 1540.53 628.38 1539.76 629.3C1538.99 630.22 1537.76 631.45 1536.86 632.5C1535.96 633.55 1534.89 634.63 1534.36 635.6C1533.83 636.57 1533.81 637.4 1533.66 638.3C1533.51 639.2 1533.43 639.88 1533.46 641C1533.49 642.12 1533.63 643.67 1533.86 645C1534.09 646.33 1534.48 647.57 1534.86 649C1535.24 650.43 1535.86 652.23 1536.16 653.6C1536.46 654.97 1536.51 656 1536.66 657.2C1536.81 658.4 1537.11 659.6 1537.06 660.8C1537.01 662 1536.56 663.2 1536.36 664.4C1536.16 665.6 1535.71 666.8 1535.86 668C1536.01 669.2 1536.76 670.4 1537.26 671.6C1537.76 672.8 1538.49 674.13 1538.86 675.2C1539.23 676.27 1539.31 677.1 1539.46 678C1539.61 678.9 1539.76 679.57 1539.76 680.6C1539.76 681.63 1539.61 683 1539.46 684.2C1539.31 685.4 1539.09 686.6 1538.86 687.8C1538.63 689 1538.36 690.2 1538.06 691.4C1537.76 692.6 1537.48 693.8 1537.06 695C1536.64 696.2 1536.06 697.4 1535.56 698.6C1535.06 699.8 1534.48 701 1534.06 702.2C1533.64 703.4 1533.31 704.6 1533.06 705.8C1532.81 707 1532.59 708.2 1532.56 709.4C1532.53 710.6 1532.71 711.8 1532.86 713C1533.01 714.2 1533.21 715.43 1533.46 716.6C1533.71 717.77 1534.11 718.95 1534.36 720C1534.61 721.05 1535.01 721.97 1534.96 722.9C1534.91 723.83 1534.46 724.7 1534.06 725.6C1533.66 726.5 1533.01 727.47 1532.56 728.3C1532.11 729.13 1531.69 729.85 1531.36 730.6C1531.02 731.35 1530.76 731.98 1530.55 732.8C1530.34 733.62 1530.27 734.6 1530.11 735.5C1529.94 736.4 1529.68 737.45 1529.56 738.2C1529.44 738.95 1529.4 739.7 1529.37 740L1529.26 740Z"/><path class="m" d="M1529.36 647.3H1565.26"/></g>
<g><path class="dk" d="M1601.08 437L1601.19 437C1601.34 437.83 1601.8 440.5 1602.06 442C1602.32 443.5 1602.34 444.87 1602.78 446C1603.22 447.13 1603.78 447.9 1604.68 448.8C1605.58 449.7 1606.95 450.52 1608.18 451.4C1609.41 452.28 1610.73 453.2 1612.08 454.1C1613.43 455 1615.18 456.02 1616.28 456.8C1617.38 457.58 1618.08 458.15 1618.68 458.8C1619.28 459.45 1620.11 460.03 1619.88 460.7C1619.65 461.37 1618.33 462.1 1617.28 462.8C1616.23 463.5 1614.78 464.17 1613.58 464.9C1612.38 465.63 1611.13 466.45 1610.08 467.2C1609.03 467.95 1608.11 468.43 1607.28 469.4C1606.45 470.37 1605.68 471.8 1605.08 473C1604.48 474.2 1604.01 475.27 1603.68 476.6C1603.35 477.93 1603.23 479.5 1603.08 481C1602.93 482.5 1602.85 483.6 1602.78 485.6C1602.71 487.6 1602.68 490.6 1602.68 493C1602.68 495.4 1602.66 498.23 1602.78 500C1602.9 501.77 1603.08 502.4 1603.38 503.6C1603.68 504.8 1604.05 506 1604.58 507.2C1605.11 508.4 1605.83 509.6 1606.58 510.8C1607.33 512 1608.36 513.27 1609.08 514.4C1609.8 515.53 1610.38 516.55 1610.88 517.6C1611.38 518.65 1612 519.67 1612.08 520.7C1612.16 521.73 1611.73 522.75 1611.38 523.8C1611.03 524.85 1610.61 525.87 1609.98 527C1609.35 528.13 1608.33 529.4 1607.58 530.6C1606.83 531.8 1606.03 533.22 1605.48 534.2C1604.93 535.18 1604.58 535.75 1604.28 536.5C1603.98 537.25 1603.61 537.95 1603.68 538.7C1603.75 539.45 1604.23 540.25 1604.68 541C1605.13 541.75 1606.01 542.03 1606.38 543.2C1606.75 544.37 1606.81 546.2 1606.88 548C1606.95 549.8 1606.88 552.25 1606.78 554C1606.68 555.75 1606.4 557 1606.28 558.5C1606.16 560 1606.03 561.5 1606.08 563C1606.13 564.5 1606.45 566 1606.58 567.5C1606.71 569 1606.95 570.65 1606.88 572C1606.81 573.35 1606.41 574.4 1606.18 575.6C1605.95 576.8 1605.45 577.92 1605.48 579.2C1605.51 580.48 1606.1 581.92 1606.38 583.3C1606.66 584.68 1607.2 586.3 1607.18 587.5C1607.16 588.7 1606.65 589.48 1606.28 590.5C1605.91 591.52 1605.35 592.48 1604.98 593.6C1604.61 594.72 1604.3 596 1604.08 597.2C1603.86 598.4 1603.66 599.6 1603.68 600.8C1603.7 602 1603.96 603.2 1604.18 604.4C1604.4 605.6 1604.75 606.8 1604.98 608C1605.21 609.2 1605.4 610.4 1605.58 611.6C1605.76 612.8 1606.06 614.05 1606.08 615.2C1606.1 616.35 1605.96 617.2 1605.68 618.5C1605.4 619.8 1604.6 621.5 1604.38 623C1604.16 624.5 1604.28 626 1604.38 627.5C1604.48 629 1605.03 630.5 1604.98 632C1604.93 633.5 1604.38 635 1604.08 636.5C1603.78 638 1603.25 639.25 1603.18 641C1603.11 642.75 1603.51 644.9 1603.68 647C1603.85 649.1 1604.15 651.6 1604.18 653.6C1604.21 655.6 1603.96 657.2 1603.88 659C1603.8 660.8 1603.75 662.57 1603.68 664.4C1603.61 666.23 1603.56 668.2 1603.48 670C1603.4 671.8 1603.3 673.45 1603.18 675.2C1603.06 676.95 1602.9 678.7 1602.78 680.5C1602.66 682.3 1602.47 683.92 1602.44 686C1602.41 688.08 1602.54 690.6 1602.6 693C1602.66 695.4 1602.81 698.07 1602.78 700.4C1602.75 702.73 1602.53 704.9 1602.44 707C1602.35 709.1 1602.29 710.5 1602.23 713C1602.17 715.5 1602.13 719.17 1602.06 722C1601.99 724.83 1601.91 727.33 1601.8 730C1601.69 732.67 1601.45 736.67 1601.38 738L1601.08 738Z"/><path class="m" d="M1601.18 548H1637.08"/></g>
<rect class="ax" x="890.45" y="420.9" width="775.45" height="319.1"/>
<path class="ax" d="M881.85 740H890.45M881.85 660.23H890.45M881.85 580.45H890.45M881.85 500.67H890.45M881.85 420.9H890.45M954.7 740V748.7M1026.52 740V748.7M1098.34 740V748.7M1170.16 740V748.7M1241.98 740V748.7M1313.8 740V748.7M1385.62 740V748.7M1457.44 740V748.7M1529.26 740V748.7M1601.08 740V748.7"/>
<text class="t" font-size="28" text-anchor="middle" transform="translate(877.6 740) rotate(-90) scale(0.97 1)">0</text>
<text class="t" font-size="28" text-anchor="middle" transform="translate(879.2 660.23) rotate(-90) scale(0.97 1)">10</text>
<text class="t" font-size="28" text-anchor="middle" transform="translate(876.6 580.95) rotate(-90) scale(0.97 1)">20</text>
<text class="t" font-size="28" text-anchor="middle" transform="translate(879.5 500.67) rotate(-90) scale(0.97 1)">30</text>
<text class="t" font-size="28" text-anchor="middle" transform="translate(878.7 420.9) rotate(-90) scale(0.97 1)">40</text>
<text class="t tt" font-size="34.3" transform="translate(969.991 408.8) scale(0.9460 1)">POC (mg C/m2/day)</text>
<text class="l" font-size="30.2" transform="translate(855.7 400.2) scale(1.0 1.0)">D</text>
<text class="t" font-size="27.3" text-anchor="middle" transform="translate(958.8 783.3) scale(0.97 1)">DP</text>
<text class="t" font-size="27.3" text-anchor="middle" transform="translate(1029.6 785.1) scale(0.97 1)">MO</text>
<text class="t" font-size="27.3" text-anchor="middle" transform="translate(1103.7 785.1) scale(0.97 1)">ER</text>
<text class="t" font-size="27.3" text-anchor="middle" transform="translate(1170.6 785.1) scale(0.97 1)">GD</text>
<text class="t" font-size="27.3" text-anchor="middle" transform="translate(1238.9 785.1) scale(0.97 1)">OV</text>
<text class="t" font-size="27.3" text-anchor="middle" transform="translate(1314 785.1) scale(0.97 1)">SV</text>
<text class="t" font-size="27.3" text-anchor="middle" transform="translate(1388 785.1) scale(0.97 1)">PA</text>
<text class="t" font-size="27.3" text-anchor="middle" transform="translate(1459.6 785.1) scale(0.97 1)">PR</text>
<text class="t" font-size="27.3" text-anchor="middle" transform="translate(1531 785.1) scale(0.97 1)">AA</text>
<text class="t" font-size="27.3" text-anchor="middle" transform="translate(1604.3 785.1) scale(0.97 1)">PP</text>
</g>
<g id="panel-E">
<g><path class="lt" d="M126.6 809L126.52 809C126.51 824.17 126.5 868.33 126.49 900C126.47 931.67 126.45 979 126.42 999C126.39 1019 126.35 1014 126.3 1020C126.25 1026 126.21 1031 126.1 1035C125.99 1039 125.75 1041 125.62 1044C125.49 1047 125.45 1050.58 125.31 1053C125.17 1055.42 125.02 1056.7 124.8 1058.5C124.58 1060.3 124.27 1062.3 124 1063.8C123.73 1065.3 123.47 1066.3 123.2 1067.5C122.93 1068.7 122.67 1069.82 122.4 1071C122.13 1072.18 121.9 1073.4 121.6 1074.6C121.3 1075.8 120.85 1077.3 120.6 1078.2C120.35 1079.1 120.38 1079.2 120.1 1080C119.82 1080.8 119.35 1082 118.9 1083C118.45 1084 118.12 1085 117.4 1086C116.68 1087 115.6 1088 114.6 1089C113.6 1090 112.73 1090.9 111.4 1092C110.07 1093.1 108.2 1094.4 106.6 1095.6C105 1096.8 103.33 1098.2 101.8 1099.2C100.27 1100.2 98.9 1100.8 97.4 1101.6C95.9 1102.4 94.37 1103.2 92.8 1104C91.23 1104.8 89.08 1105.8 88 1106.4C86.92 1107 86.8 1107.2 86.3 1107.6C85.8 1108 85.33 1108.45 85 1108.8C84.67 1109.15 84.48 1109.4 84.3 1109.7C84.12 1110 83.95 1110.3 83.9 1110.6C83.85 1110.9 83.92 1111.2 84 1111.5C84.08 1111.8 84.18 1112.1 84.4 1112.4C84.62 1112.7 84.9 1113 85.3 1113.3C85.7 1113.6 86.15 1113.9 86.8 1114.2C87.45 1114.5 88.3 1114.8 89.2 1115.1C90.1 1115.4 90.97 1115.65 92.2 1116C93.43 1116.35 95.1 1116.8 96.6 1117.2C98.1 1117.6 99.63 1118 101.2 1118.4C102.77 1118.8 104.4 1119.2 106 1119.6C107.6 1120 109.23 1120.4 110.8 1120.8C112.37 1121.2 113.9 1121.6 115.4 1122C116.9 1122.4 118.33 1122.72 119.8 1123.2C121.27 1123.68 123.47 1124.62 124.2 1124.9L126.6 1124.9Z"/><path class="dk" d="M126.6 809L126.68 809C126.69 824.17 126.68 877.33 126.75 900C126.82 922.67 126.96 934.5 127.1 945C127.24 955.5 127.46 958.5 127.58 963C127.7 967.5 127.74 969 127.82 972C127.9 975 127.93 978 128.04 981C128.15 984 128.34 987 128.5 990C128.66 993 128.82 996 129 999C129.18 1002 129.38 1005 129.6 1008C129.82 1011 130.12 1014 130.3 1017C130.48 1020 130.55 1023 130.7 1026C130.85 1029 130.95 1032.67 131.2 1035C131.45 1037.33 131.9 1038.5 132.2 1040C132.5 1041.5 132.92 1042.83 133 1044C133.08 1045.17 132.67 1046 132.7 1047C132.73 1048 133 1048.4 133.2 1050C133.4 1051.6 133.72 1054.6 133.9 1056.6C134.08 1058.6 134.15 1060.2 134.3 1062C134.45 1063.8 134.75 1066.07 134.8 1067.4C134.85 1068.73 134.47 1069.23 134.6 1070C134.73 1070.77 135.13 1070.92 135.6 1072C136.07 1073.08 136.73 1075.17 137.4 1076.5C138.07 1077.83 138.93 1078.92 139.6 1080C140.27 1081.08 141 1082 141.4 1083C141.8 1084 142.03 1085 142 1086C141.97 1087 141.2 1088 141.2 1089C141.2 1090 141.47 1091 142 1092C142.53 1093 143.7 1094 144.4 1095C145.1 1096 145.55 1096.9 146.2 1098C146.85 1099.1 147.63 1100.55 148.3 1101.6C148.97 1102.65 149.6 1103.4 150.2 1104.3C150.8 1105.2 151.47 1106.3 151.9 1107C152.33 1107.7 152.6 1108.05 152.8 1108.5C153 1108.95 153.1 1109.32 153.1 1109.7C153.1 1110.08 153.05 1110.45 152.8 1110.8C152.55 1111.15 152.17 1111.47 151.6 1111.8C151.03 1112.13 150.27 1112.5 149.4 1112.8C148.53 1113.1 147.7 1113.27 146.4 1113.6C145.1 1113.93 143.13 1114.4 141.6 1114.8C140.07 1115.2 138.53 1115.55 137.2 1116C135.87 1116.45 134.67 1117 133.6 1117.5C132.53 1118 131.6 1118.5 130.8 1119C130 1119.5 129.31 1120 128.8 1120.5C128.29 1121 128.09 1121.33 127.75 1122C127.41 1122.67 126.94 1124.08 126.78 1124.5L126.6 1124.5Z"/><path class="m" d="M91.05 1101.9H126.35"/><path class="m" d="M126.7 1076.5H162.6"/></g>
<g><path class="dk" d="M198.42 850.8L198.5 850.8C198.51 859 198.53 883.47 198.57 900C198.6 916.53 198.6 936.5 198.72 950C198.84 963.5 199.12 972.83 199.27 981C199.42 989.17 199.53 993 199.64 999C199.75 1005 199.81 1012.5 199.94 1017C200.07 1021.5 200.24 1023 200.42 1026C200.6 1029 200.89 1032.33 201.02 1035C201.15 1037.67 201.15 1039.6 201.22 1042C201.29 1044.4 201.27 1047.4 201.42 1049.4C201.57 1051.4 201.82 1052.5 202.12 1054C202.42 1055.5 202.74 1056.9 203.22 1058.4C203.7 1059.9 204.42 1061.5 205.02 1063C205.62 1064.5 206.39 1066.07 206.82 1067.4C207.25 1068.73 207.39 1069.8 207.62 1071C207.85 1072.2 207.82 1073.55 208.22 1074.6C208.62 1075.65 209.35 1076.4 210.02 1077.3C210.69 1078.2 211.32 1078.8 212.22 1080C213.12 1081.2 214.39 1083 215.42 1084.5C216.45 1086 217.52 1087.8 218.42 1089C219.32 1090.2 220.05 1090.8 220.82 1091.7C221.59 1092.6 222.35 1093.57 223.02 1094.4C223.69 1095.23 224.32 1095.95 224.82 1096.7C225.32 1097.45 226.09 1098.15 226.02 1098.9C225.95 1099.65 225.07 1100.45 224.42 1101.2C223.77 1101.95 222.79 1102.6 222.12 1103.4C221.45 1104.2 220.94 1105.1 220.42 1106C219.9 1106.9 219.65 1107.88 219.02 1108.8C218.39 1109.72 217.45 1110.6 216.62 1111.5C215.79 1112.4 214.72 1113.45 214.02 1114.2C213.32 1114.95 212.87 1115.4 212.42 1116C211.97 1116.6 211.55 1117.2 211.32 1117.8C211.09 1118.4 211.09 1119 211.02 1119.6C210.95 1120.2 211.09 1120.83 210.92 1121.4C210.75 1121.97 210.4 1122.42 210.02 1123C209.64 1123.58 208.85 1124.58 208.62 1124.9L198.42 1124.9Z"/><path class="m" d="M198.52 1088.2H234.42"/></g>
<g><path class="dk" d="M270.24 988L270.32 988C270.36 990 270.39 995.17 270.54 1000C270.69 1004.83 271.03 1013 271.22 1017C271.41 1021 271.48 1021.6 271.68 1024C271.88 1026.4 272.03 1029.73 272.44 1031.4C272.85 1033.07 273.62 1033.1 274.14 1034C274.66 1034.9 275.52 1035.88 275.54 1036.8C275.56 1037.72 274.61 1038.6 274.24 1039.5C273.87 1040.4 273.37 1040.87 273.34 1042.2C273.31 1043.53 273.79 1045.7 274.04 1047.5C274.29 1049.3 274.54 1051.33 274.84 1053C275.14 1054.67 275.49 1056 275.84 1057.5C276.19 1059 276.34 1060.65 276.94 1062C277.54 1063.35 278.54 1064.4 279.44 1065.6C280.34 1066.8 281.51 1068.13 282.34 1069.2C283.17 1070.27 283.84 1071.1 284.44 1072C285.04 1072.9 285.59 1073.72 285.94 1074.6C286.29 1075.48 286.39 1076.4 286.54 1077.3C286.69 1078.2 286.12 1078.8 286.84 1080C287.56 1081.2 289.49 1083 290.84 1084.5C292.19 1086 293.91 1087.8 294.94 1089C295.97 1090.2 296.37 1090.8 297.04 1091.7C297.71 1092.6 298.41 1093.6 298.94 1094.4C299.47 1095.2 299.91 1095.82 300.24 1096.5C300.57 1097.18 301.11 1097.83 300.94 1098.5C300.77 1099.17 299.94 1099.83 299.24 1100.5C298.54 1101.17 297.67 1101.78 296.74 1102.5C295.81 1103.22 294.69 1104.05 293.64 1104.8C292.59 1105.55 291.51 1106.18 290.44 1107C289.37 1107.82 288.27 1108.8 287.24 1109.7C286.21 1110.6 285.21 1111.52 284.24 1112.4C283.27 1113.28 282.36 1114.1 281.44 1115C280.52 1115.9 279.64 1116.97 278.74 1117.8C277.84 1118.63 276.94 1119.25 276.04 1120C275.14 1120.75 274.19 1121.55 273.34 1122.3C272.49 1123.05 271.36 1124.13 270.96 1124.5L270.24 1124.5Z"/><path class="m" d="M270.34 1087.2H306.24"/></g>
<g><path class="dk" d="M342.06 994L342.14 994C342.18 996.67 342.29 1004 342.36 1010C342.43 1016 342.49 1023.43 342.56 1030C342.63 1036.57 342.67 1045.57 342.78 1049.4C342.89 1053 343.09 1051.8 343.21 1053C343.33 1054.2 343.26 1055.1 343.5 1056.6C343.74 1058.1 344.22 1060.2 344.66 1062C345.1 1063.8 345.69 1065.9 346.16 1067.4C346.63 1068.9 347.01 1069.8 347.46 1071C347.91 1072.2 348.33 1073.4 348.86 1074.6C349.39 1075.8 350.06 1077 350.66 1078.2C351.26 1079.4 351.93 1080.6 352.46 1081.8C352.99 1083 353.41 1084.2 353.86 1085.4C354.31 1086.6 354.66 1087.95 355.16 1089C355.66 1090.05 356.26 1090.8 356.86 1091.7C357.46 1092.6 357.98 1093.43 358.76 1094.4C359.54 1095.37 360.34 1096.48 361.56 1097.5C362.78 1098.52 364.28 1099.52 366.06 1100.5C367.84 1101.48 370.01 1102.48 372.26 1103.4C374.51 1104.32 376.86 1105.1 379.56 1106C382.26 1106.9 386.21 1108.03 388.46 1108.8C390.71 1109.57 391.86 1110 393.06 1110.6C394.26 1111.2 396.16 1111.8 395.66 1112.4C395.16 1113 392.46 1113.6 390.06 1114.2C387.66 1114.8 384.59 1115.4 381.26 1116C377.93 1116.6 373.66 1117.2 370.06 1117.8C366.46 1118.4 362.41 1119.07 359.66 1119.6C356.91 1120.13 355.36 1120.55 353.56 1121C351.76 1121.45 350.18 1121.92 348.86 1122.3C347.54 1122.68 346.6 1122.93 345.66 1123.3C344.72 1123.67 343.62 1124.3 343.21 1124.5L342.06 1124.5Z"/><path class="m" d="M342.16 1100.8H378.06"/></g>
<g><path class="dk" d="M413.88 826.5L414.06 826.5C414.25 826.92 414.78 828.25 415.17 829C415.56 829.75 415.76 830.08 416.38 831C417 831.92 417.98 833.3 418.88 834.5C419.78 835.7 420.68 837.12 421.78 838.2C422.88 839.28 424.13 840.1 425.48 841C426.83 841.9 428.71 842.72 429.88 843.6C431.05 844.48 431.88 845.4 432.48 846.3C433.08 847.2 433.48 848.25 433.48 849C433.48 849.75 433.08 850.2 432.48 850.8C431.88 851.4 431.05 851.9 429.88 852.6C428.71 853.3 426.83 854.25 425.48 855C424.13 855.75 422.51 856.27 421.78 857.1C421.05 857.93 421.28 858.95 421.08 860C420.88 861.05 421.01 862.4 420.58 863.4C420.15 864.4 419.18 865.1 418.48 866C417.78 866.9 416.88 867.8 416.38 868.8C415.88 869.8 415.67 870.8 415.48 872C415.29 873.2 415.28 874.33 415.24 876C415.2 877.67 415.2 879.9 415.24 882C415.28 884.1 415.24 886.9 415.48 888.6C415.72 890.3 416.23 891 416.68 892.2C417.13 893.4 417.75 894.83 418.18 895.8C418.61 896.77 418.98 897.25 419.28 898C419.58 898.75 420.06 899.55 419.98 900.3C419.9 901.05 419.23 901.75 418.78 902.5C418.33 903.25 417.78 903.8 417.28 904.8C416.78 905.8 416.14 907.3 415.78 908.5C415.42 909.7 415.15 910.67 415.1 912C415.05 913.33 415.27 915 415.48 916.5C415.69 918 416.15 919.65 416.38 921C416.61 922.35 416.73 923.4 416.88 924.6C417.03 925.8 417.05 927.05 417.28 928.2C417.51 929.35 417.75 930.37 418.28 931.5C418.81 932.63 419.45 933.75 420.48 935C421.51 936.25 423.48 938 424.48 939C425.48 940 425.96 940.35 426.48 941C427 941.65 427.78 942.23 427.58 942.9C427.38 943.57 426.1 944.32 425.28 945C424.46 945.68 423.71 946.2 422.68 947C421.65 947.8 420.13 948.88 419.08 949.8C418.03 950.72 416.75 951.68 416.38 952.5C416.01 953.32 416.58 953.95 416.88 954.7C417.18 955.45 417.51 956.12 418.18 957C418.85 957.88 420.13 958.95 420.88 960C421.63 961.05 422.71 962.3 422.68 963.3C422.65 964.3 421.43 965.1 420.68 966C419.93 966.9 418.88 967.87 418.18 968.7C417.48 969.53 416.93 970.25 416.48 971C416.03 971.75 415.53 972.37 415.48 973.2C415.43 974.03 415.88 975.1 416.18 976C416.48 976.9 416.93 977.77 417.28 978.6C417.63 979.43 418.03 980.27 418.28 981C418.53 981.73 418.98 982.22 418.78 983C418.58 983.78 417.63 984.8 417.08 985.7C416.53 986.6 415.61 987.52 415.48 988.4C415.35 989.28 415.98 990.23 416.28 991C416.58 991.77 416.81 992.25 417.28 993C417.75 993.75 418.35 994.5 419.08 995.5C419.81 996.5 421.01 997.88 421.68 999C422.35 1000.12 423.21 1001.2 423.08 1002.2C422.95 1003.2 421.7 1004.03 420.88 1005C420.06 1005.97 419.01 1007 418.18 1008C417.35 1009 416.45 1009.95 415.88 1011C415.31 1012.05 414.7 1013.22 414.73 1014.3C414.76 1015.38 415.5 1016.45 416.08 1017.5C416.65 1018.55 417.56 1019.6 418.18 1020.6C418.8 1021.6 419.38 1022.55 419.78 1023.5C420.18 1024.45 420.83 1025.33 420.58 1026.3C420.33 1027.27 419.13 1028.3 418.28 1029.3C417.43 1030.3 416.05 1031.27 415.48 1032.3C414.91 1033.33 415.04 1034.45 414.86 1035.5C414.68 1036.55 414.37 1037.18 414.38 1038.6C414.39 1040.02 414.76 1042.2 414.94 1044C415.13 1045.8 415.19 1047.9 415.48 1049.4C415.77 1050.9 416.23 1051.8 416.68 1053C417.13 1054.2 417.81 1055.6 418.18 1056.6C418.55 1057.6 418.73 1058.27 418.88 1059C419.03 1059.73 419.35 1060.13 419.08 1061C418.81 1061.87 417.88 1063.13 417.28 1064.2C416.68 1065.27 415.83 1066.1 415.48 1067.4C415.13 1068.7 415.21 1070.2 415.17 1072C415.13 1073.8 415.2 1076.2 415.24 1078.2C415.28 1080.2 415.36 1082.2 415.4 1084C415.44 1085.8 415.37 1087.33 415.48 1089C415.59 1090.67 415.93 1092.5 416.08 1094C416.23 1095.5 416.46 1096.83 416.38 1098C416.3 1099.17 415.81 1100.1 415.58 1101C415.35 1101.9 415.19 1102.57 415.03 1103.4C414.87 1104.23 414.77 1105.1 414.6 1106C414.43 1106.9 414.09 1108.33 413.99 1108.8L413.88 1108.8Z"/><path class="m" d="M413.98 935H449.88"/></g>
<g><path class="dk" d="M485.7 967L485.78 967C485.82 970 485.85 979.5 486 985C486.15 990.5 486.49 996.17 486.68 1000C486.87 1003.83 487 1005.83 487.14 1008C487.28 1010.17 487.37 1011.5 487.5 1013C487.63 1014.5 487.7 1015.75 487.9 1017C488.1 1018.25 488.32 1019.3 488.7 1020.5C489.08 1021.7 489.5 1022.95 490.2 1024.2C490.9 1025.45 492.08 1026.8 492.9 1028C493.72 1029.2 494.87 1030.4 495.1 1031.4C495.33 1032.4 494.52 1033.1 494.3 1034C494.08 1034.9 493.63 1035.72 493.8 1036.8C493.97 1037.88 494.7 1039.3 495.3 1040.5C495.9 1041.7 496.63 1042.97 497.4 1044C498.17 1045.03 499 1045.8 499.9 1046.7C500.8 1047.6 501.97 1048.52 502.8 1049.4C503.63 1050.28 504.37 1051.1 504.9 1052C505.43 1052.9 506 1053.88 506 1054.8C506 1055.72 505.43 1056.6 504.9 1057.5C504.37 1058.4 503.6 1059.28 502.8 1060.2C502 1061.12 501 1062.1 500.1 1063C499.2 1063.9 498.13 1064.77 497.4 1065.6C496.67 1066.43 496.05 1067.17 495.7 1068C495.35 1068.83 495.17 1069.68 495.3 1070.6C495.43 1071.52 496 1072.53 496.5 1073.5C497 1074.47 497.57 1075.4 498.3 1076.4C499.03 1077.4 500.15 1078.45 500.9 1079.5C501.65 1080.55 502.73 1081.62 502.8 1082.7C502.87 1083.78 501.9 1084.95 501.3 1086C500.7 1087.05 499.83 1088.05 499.2 1089C498.57 1089.95 497.95 1090.8 497.5 1091.7C497.05 1092.6 496.57 1093.52 496.5 1094.4C496.43 1095.28 496.8 1096.1 497.1 1097C497.4 1097.9 497.67 1098.88 498.3 1099.8C498.93 1100.72 500.15 1101.6 500.9 1102.5C501.65 1103.4 502.63 1104.37 502.8 1105.2C502.97 1106.03 502.35 1106.75 501.9 1107.5C501.45 1108.25 500.97 1108.95 500.1 1109.7C499.23 1110.45 497.9 1111.25 496.7 1112C495.5 1112.75 494.03 1113.45 492.9 1114.2C491.77 1114.95 490.8 1115.75 489.9 1116.5C489 1117.25 488.02 1118.03 487.5 1118.7C486.98 1119.37 486.98 1119.9 486.76 1120.5C486.55 1121.1 486.36 1121.72 486.2 1122.3C486.04 1122.88 485.88 1123.72 485.81 1124L485.7 1124Z"/><path class="m" d="M485.8 1070.6H521.7"/></g>
<g><path class="dk" d="M557.52 968L557.6 968C557.64 971.67 557.71 983 557.82 990C557.93 997 558.13 1005.5 558.24 1010C558.35 1014.5 558.42 1015.23 558.5 1017C558.58 1018.77 558.54 1019.43 558.74 1020.6C558.94 1021.77 559.29 1022.8 559.72 1024C560.15 1025.2 560.8 1026.57 561.32 1027.8C561.84 1029.03 562.37 1030.2 562.82 1031.4C563.27 1032.6 563.77 1033.8 564.02 1035C564.27 1036.2 564.24 1037.4 564.32 1038.6C564.4 1039.8 564.32 1041.05 564.52 1042.2C564.72 1043.35 565.22 1044.45 565.52 1045.5C565.82 1046.55 566.34 1047.33 566.32 1048.5C566.3 1049.67 565.65 1051.15 565.42 1052.5C565.19 1053.85 564.99 1055.02 564.92 1056.6C564.85 1058.18 564.97 1060.2 565.02 1062C565.07 1063.8 565.1 1065.57 565.22 1067.4C565.34 1069.23 565.54 1071.2 565.72 1073C565.9 1074.8 566.02 1076.62 566.32 1078.2C566.62 1079.78 566.95 1081.07 567.52 1082.5C568.09 1083.93 568.8 1085.42 569.72 1086.8C570.64 1088.18 571.72 1089.53 573.02 1090.8C574.32 1092.07 575.87 1093.2 577.52 1094.4C579.17 1095.6 581.32 1096.95 582.92 1098C584.52 1099.05 585.77 1099.8 587.12 1100.7C588.47 1101.6 590.02 1102.65 591.02 1103.4C592.02 1104.15 592.59 1104.6 593.12 1105.2C593.65 1105.8 594.49 1106.4 594.22 1107C593.95 1107.6 592.8 1108.2 591.52 1108.8C590.24 1109.4 588.39 1110 586.52 1110.6C584.65 1111.2 582.42 1111.8 580.32 1112.4C578.22 1113 575.82 1113.6 573.92 1114.2C572.02 1114.8 570.42 1115.4 568.92 1116C567.42 1116.6 566.02 1117.2 564.92 1117.8C563.82 1118.4 563.07 1119 562.32 1119.6C561.57 1120.2 560.97 1120.83 560.42 1121.4C559.87 1121.97 559.44 1122.48 559.04 1123C558.64 1123.52 558.19 1124.25 558.02 1124.5L557.52 1124.5Z"/><path class="m" d="M557.62 1086.8H593.52"/></g>
<g><path class="dk" d="M629.34 993.6L629.42 993.6C629.46 995.5 629.53 1001.43 629.64 1005C629.75 1008.57 629.95 1012.4 630.06 1015C630.17 1017.6 630.22 1019.35 630.32 1020.6C630.41 1021.85 630.48 1021.9 630.63 1022.5C630.78 1023.1 630.79 1023.32 631.24 1024.2C631.69 1025.08 632.59 1026.6 633.34 1027.8C634.09 1029 634.97 1030.2 635.74 1031.4C636.51 1032.6 637.19 1033.8 637.94 1035C638.69 1036.2 639.51 1037.55 640.24 1038.6C640.97 1039.65 641.59 1040.4 642.34 1041.3C643.09 1042.2 644.11 1043.25 644.74 1044C645.37 1044.75 645.79 1045.2 646.14 1045.8C646.49 1046.4 646.91 1047 646.84 1047.6C646.77 1048.2 646.24 1048.8 645.74 1049.4C645.24 1050 644.67 1050.52 643.84 1051.2C643.01 1051.88 641.64 1052.75 640.74 1053.5C639.84 1054.25 638.86 1054.87 638.44 1055.7C638.02 1056.53 638.24 1057.45 638.24 1058.5C638.24 1059.55 638.62 1060.97 638.44 1062C638.26 1063.03 637.59 1063.8 637.14 1064.7C636.69 1065.6 636.14 1066.35 635.74 1067.4C635.34 1068.45 635.04 1069.8 634.74 1071C634.44 1072.2 634.11 1073.43 633.94 1074.6C633.77 1075.77 633.67 1076.93 633.74 1078C633.81 1079.07 633.94 1080 634.34 1081C634.74 1082 635.46 1082.97 636.14 1084C636.82 1085.03 637.67 1086.2 638.44 1087.2C639.21 1088.2 639.99 1089.1 640.74 1090C641.49 1090.9 642.47 1091.72 642.94 1092.6C643.41 1093.48 643.39 1094.4 643.54 1095.3C643.69 1096.2 643.41 1097.18 643.84 1098C644.27 1098.82 645.24 1099.45 646.14 1100.2C647.04 1100.95 648.21 1101.82 649.24 1102.5C650.27 1103.18 651.29 1103.72 652.34 1104.3C653.39 1104.88 654.71 1105.47 655.54 1106C656.37 1106.53 656.89 1107.03 657.34 1107.5C657.79 1107.97 658.47 1108.28 658.24 1108.8C658.01 1109.32 656.84 1110 655.94 1110.6C655.04 1111.2 654.04 1111.73 652.84 1112.4C651.64 1113.07 650.09 1113.85 648.74 1114.6C647.39 1115.35 646.04 1116.22 644.74 1116.9C643.44 1117.58 642.14 1118.1 640.94 1118.7C639.74 1119.3 638.57 1119.97 637.54 1120.5C636.51 1121.03 635.64 1121.45 634.74 1121.9C633.84 1122.35 632.88 1122.75 632.14 1123.2C631.4 1123.65 630.62 1124.37 630.32 1124.6L629.34 1124.6Z"/><path class="m" d="M629.44 1080.9H665.34"/></g>
<g><path class="dk" d="M701.16 1017L701.24 1017C701.35 1017.83 701.69 1020.5 701.88 1022C702.07 1023.5 702.2 1024.88 702.38 1026C702.56 1027.12 702.68 1027.8 702.96 1028.7C703.24 1029.6 703.46 1030.35 704.06 1031.4C704.66 1032.45 705.73 1033.8 706.56 1035C707.39 1036.2 708.63 1037.55 709.06 1038.6C709.49 1039.65 709.09 1040.4 709.16 1041.3C709.23 1042.2 709.09 1043.1 709.46 1044C709.83 1044.9 710.76 1045.8 711.36 1046.7C711.96 1047.6 712.63 1048.58 713.06 1049.4C713.49 1050.22 713.76 1050.85 713.96 1051.6C714.16 1052.35 714.49 1053.07 714.26 1053.9C714.03 1054.73 713.06 1055.7 712.56 1056.6C712.06 1057.5 711.26 1058.4 711.26 1059.3C711.26 1060.2 711.96 1061.1 712.56 1062C713.16 1062.9 713.93 1063.87 714.86 1064.7C715.79 1065.53 716.96 1066.25 718.16 1067C719.36 1067.75 721.09 1068.45 722.06 1069.2C723.03 1069.95 723.51 1070.75 723.96 1071.5C724.41 1072.25 724.76 1072.87 724.76 1073.7C724.76 1074.53 723.99 1075.55 723.96 1076.5C723.93 1077.45 724.29 1078.48 724.56 1079.4C724.83 1080.32 725.38 1081.15 725.56 1082C725.74 1082.85 726.13 1083.7 725.66 1084.5C725.19 1085.3 723.81 1086.05 722.76 1086.8C721.71 1087.55 720.53 1088.18 719.36 1089C718.19 1089.82 716.81 1090.8 715.76 1091.7C714.71 1092.6 713.76 1093.52 713.06 1094.4C712.36 1095.28 711.93 1096.1 711.56 1097C711.19 1097.9 710.76 1098.88 710.86 1099.8C710.96 1100.72 711.64 1101.6 712.16 1102.5C712.68 1103.4 713.43 1104.37 713.96 1105.2C714.49 1106.03 714.98 1106.75 715.36 1107.5C715.74 1108.25 716.26 1108.95 716.26 1109.7C716.26 1110.45 715.74 1111.25 715.36 1112C714.98 1112.75 714.69 1113.45 713.96 1114.2C713.23 1114.95 712.01 1115.75 710.96 1116.5C709.91 1117.25 708.69 1117.95 707.66 1118.7C706.63 1119.45 705.6 1120.25 704.76 1121C703.92 1121.75 703.15 1122.6 702.6 1123.2C702.05 1123.8 701.65 1124.37 701.46 1124.6L701.16 1124.6Z"/><path class="m" d="M701.26 1079.4H737.16"/></g>
<g><path class="dk" d="M772.98 981L773.09 981C773.29 981.5 773.92 983.1 774.27 984C774.62 984.9 775.09 985.4 775.18 986.4C775.26 987.4 774.88 988.8 774.78 990C774.68 991.2 774.41 992.27 774.58 993.6C774.75 994.93 775.38 996.5 775.78 998C776.18 999.5 776.88 1000.93 776.98 1002.6C777.08 1004.27 776.55 1006.2 776.38 1008C776.21 1009.8 776.1 1011.73 775.98 1013.4C775.86 1015.07 775.73 1016.5 775.68 1018C775.63 1019.5 775.43 1020.9 775.68 1022.4C775.93 1023.9 776.66 1025.5 777.18 1027C777.7 1028.5 778.38 1030.23 778.78 1031.4C779.18 1032.57 779.38 1033.1 779.58 1034C779.78 1034.9 779.93 1035.88 779.98 1036.8C780.03 1037.72 779.88 1038.6 779.88 1039.5C779.88 1040.4 779.7 1041.2 779.98 1042.2C780.26 1043.2 781.1 1044.45 781.58 1045.5C782.06 1046.55 782.56 1047.62 782.88 1048.5C783.2 1049.38 783.33 1050.05 783.48 1050.8C783.63 1051.55 783.9 1052.18 783.78 1053C783.66 1053.82 783.16 1054.8 782.78 1055.7C782.4 1056.6 781.95 1057.43 781.48 1058.4C781.01 1059.37 780.43 1060.45 779.98 1061.5C779.53 1062.55 778.85 1063.78 778.78 1064.7C778.71 1065.62 779.38 1066.25 779.58 1067C779.78 1067.75 780.11 1068.37 779.98 1069.2C779.85 1070.03 779.13 1071.1 778.78 1072C778.43 1072.9 777.98 1073.6 777.88 1074.6C777.78 1075.6 777.93 1076.9 778.18 1078C778.43 1079.1 778.95 1080.17 779.38 1081.2C779.81 1082.23 780.28 1083.2 780.78 1084.2C781.28 1085.2 781.71 1086.23 782.38 1087.2C783.05 1088.17 784.03 1089.1 784.78 1090C785.53 1090.9 786.71 1091.72 786.88 1092.6C787.05 1093.48 786.08 1094.4 785.78 1095.3C785.48 1096.2 784.8 1097.18 785.08 1098C785.36 1098.82 786.58 1099.45 787.48 1100.2C788.38 1100.95 789.5 1101.73 790.48 1102.5C791.46 1103.27 792.48 1104.05 793.38 1104.8C794.28 1105.55 795.51 1106.33 795.88 1107C796.25 1107.67 795.73 1108.2 795.58 1108.8C795.43 1109.4 794.81 1110 794.98 1110.6C795.15 1111.2 795.98 1111.8 796.58 1112.4C797.18 1113 797.88 1113.63 798.58 1114.2C799.28 1114.77 800.18 1115.27 800.78 1115.8C801.38 1116.33 802.65 1116.87 802.18 1117.4C801.71 1117.93 799.63 1118.48 797.98 1119C796.33 1119.52 794.28 1120.02 792.28 1120.5C790.28 1120.98 788.08 1121.45 785.98 1121.9C783.88 1122.35 781.48 1122.75 779.68 1123.2C777.88 1123.65 775.93 1124.37 775.18 1124.6L772.98 1124.6Z"/><path class="m" d="M773.08 1081.2H808.98"/></g>
<rect class="ax" x="62" y="806.15" width="775.4" height="318.8"/>
<path class="ax" d="M54.1 1124.95H62M54.1 1045.25H62M54.1 965.55H62M54.1 885.85H62M54.1 806.15H62M126.6 1124.95V1133.65M198.42 1124.95V1133.65M270.24 1124.95V1133.65M342.06 1124.95V1133.65M413.88 1124.95V1133.65M485.7 1124.95V1133.65M557.52 1124.95V1133.65M629.34 1124.95V1133.65M701.16 1124.95V1133.65M772.98 1124.95V1133.65"/>
<text class="t" font-size="28" text-anchor="middle" transform="translate(43.4 1124.35) rotate(-90) scale(0.97 1)">0</text>
<text class="t" font-size="28" text-anchor="middle" transform="translate(43.4 1044.65) rotate(-90) scale(0.97 1)">0.2</text>
<text class="t" font-size="28" text-anchor="middle" transform="translate(43.4 964.95) rotate(-90) scale(0.97 1)">0.4</text>
<text class="t" font-size="28" text-anchor="middle" transform="translate(43.4 885.25) rotate(-90) scale(0.97 1)">0.6</text>
<text class="t" font-size="28" text-anchor="middle" transform="translate(43.4 805.55) rotate(-90) scale(0.97 1)">0.8</text>
<text class="t tt" font-size="34.3" transform="translate(89.555 793.8) scale(0.9488 1)">(E) Current Velocity (m/s)</text>
<text class="l" font-size="30.2" transform="translate(-0.1 786.2) scale(1.0 1.0)">E</text>
<text class="t" font-size="27.3" text-anchor="middle" transform="translate(128.8 1169.9) scale(0.97 1)">DP</text>
<text class="t" font-size="27.3" text-anchor="middle" transform="translate(199.6 1170.4) scale(0.97 1)">MO</text>
<text class="t" font-size="27.3" text-anchor="middle" transform="translate(274.1 1170.4) scale(0.97 1)">ER</text>
<text class="t" font-size="27.3" text-anchor="middle" transform="translate(340.4 1170.4) scale(0.97 1)">GD</text>
<text class="t" font-size="27.3" text-anchor="middle" transform="translate(408.9 1170.4) scale(0.97 1)">OV</text>
<text class="t" font-size="27.3" text-anchor="middle" transform="translate(484.2 1170.4) scale(0.97 1)">SV</text>
<text class="t" font-size="27.3" text-anchor="middle" transform="translate(558 1170.4) scale(0.97 1)">PA</text>
<text class="t" font-size="27.3" text-anchor="middle" transform="translate(629 1170.4) scale(0.97 1)">PR</text>
<text class="t" font-size="27.3" text-anchor="middle" transform="translate(700.2 1170.4) scale(0.97 1)">AA</text>
<text class="t" font-size="27.3" text-anchor="middle" transform="translate(774.2 1170.4) scale(0.97 1)">PP</text>
</g>
</svg>
</body>
</html>
